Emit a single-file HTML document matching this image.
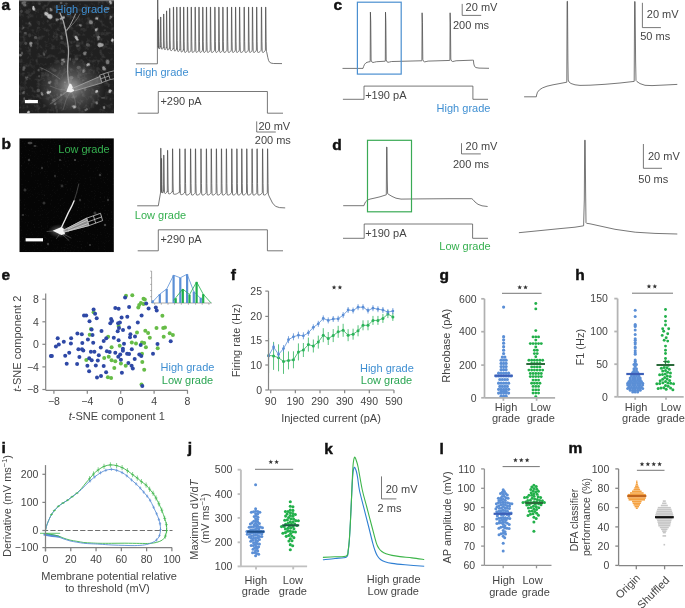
<!DOCTYPE html>
<html><head><meta charset="utf-8"><style>
html,body{margin:0;padding:0;background:#fff;width:685px;height:608px;overflow:hidden}
svg{display:block;font-family:"Liberation Sans", sans-serif;will-change:transform}
</style></head><body>
<svg width="685" height="608" viewBox="0 0 685 608">
<rect width="685" height="608" fill="#fff"/>
<text x="1.40" y="9.50" font-size="15.5" text-anchor="start" fill="#111" font-weight="bold" stroke="#111" stroke-width="0.45">a</text>
<text x="1.40" y="149.00" font-size="15.5" text-anchor="start" fill="#111" font-weight="bold" stroke="#111" stroke-width="0.45">b</text>
<text x="333.40" y="9.70" font-size="15.5" text-anchor="start" fill="#111" font-weight="bold" stroke="#111" stroke-width="0.45">c</text>
<text x="332.30" y="150.40" font-size="15.5" text-anchor="start" fill="#111" font-weight="bold" stroke="#111" stroke-width="0.45">d</text>
<text x="1.60" y="279.80" font-size="15.5" text-anchor="start" fill="#111" font-weight="bold" stroke="#111" stroke-width="0.45">e</text>
<text x="230.80" y="280.00" font-size="15.5" text-anchor="start" fill="#111" font-weight="bold" stroke="#111" stroke-width="0.45">f</text>
<text x="439.60" y="280.00" font-size="15.5" text-anchor="start" fill="#111" font-weight="bold" stroke="#111" stroke-width="0.45">g</text>
<text x="575.20" y="280.00" font-size="15.5" text-anchor="start" fill="#111" font-weight="bold" stroke="#111" stroke-width="0.45">h</text>
<text x="1.40" y="453.00" font-size="15.5" text-anchor="start" fill="#111" font-weight="bold" stroke="#111" stroke-width="0.45">i</text>
<text x="187.80" y="453.20" font-size="15.5" text-anchor="start" fill="#111" font-weight="bold" stroke="#111" stroke-width="0.45">j</text>
<text x="324.20" y="453.60" font-size="15.5" text-anchor="start" fill="#111" font-weight="bold" stroke="#111" stroke-width="0.45">k</text>
<text x="439.60" y="453.60" font-size="15.5" text-anchor="start" fill="#111" font-weight="bold" stroke="#111" stroke-width="0.45">l</text>
<text x="568.40" y="453.20" font-size="15.5" text-anchor="start" fill="#111" font-weight="bold" stroke="#111" stroke-width="0.45">m</text>
<defs>
<filter id="blur1" x="-50%" y="-50%" width="200%" height="200%"><feGaussianBlur stdDeviation="0.7"/></filter>
<filter id="blur2" x="-50%" y="-50%" width="200%" height="200%"><feGaussianBlur stdDeviation="1.6"/></filter>
<filter id="blur5" x="-100%" y="-100%" width="300%" height="300%"><feGaussianBlur stdDeviation="5"/></filter>
<filter id="noiseA" x="0" y="0" width="100%" height="100%">
 <feTurbulence type="fractalNoise" baseFrequency="0.22" numOctaves="3" seed="3" result="n"/>
 <feColorMatrix in="n" type="matrix" values="0 0 0 0 1  0 0 0 0 1  0 0 0 0 1  3.0 0 0 0 -1.45" result="m"/>
 <feGaussianBlur in="m" stdDeviation="0.45"/>
</filter>
<filter id="noiseB" x="0" y="0" width="100%" height="100%">
 <feTurbulence type="fractalNoise" baseFrequency="0.7" numOctaves="2" seed="9" result="n"/>
 <feColorMatrix in="n" type="matrix" values="0 0 0 0 1  0 0 0 0 1  0 0 0 0 1  1.6 0 0 0 -0.95" />
</filter>
<radialGradient id="glowA" cx="0.5" cy="0.5" r="0.5">
 <stop offset="0" stop-color="#fff" stop-opacity="0.55"/><stop offset="0.4" stop-color="#fff" stop-opacity="0.22"/><stop offset="1" stop-color="#fff" stop-opacity="0"/>
</radialGradient>
<radialGradient id="glowB" cx="0.5" cy="0.5" r="0.5">
 <stop offset="0" stop-color="#fff" stop-opacity="0.9"/><stop offset="0.3" stop-color="#fff" stop-opacity="0.25"/><stop offset="1" stop-color="#fff" stop-opacity="0"/>
</radialGradient>
<clipPath id="clipA"><rect x="19" y="0" width="95" height="113.6"/></clipPath>
<clipPath id="clipB"><rect x="19.3" y="138.2" width="94.6" height="114"/></clipPath>
</defs>
<g clip-path="url(#clipA)">
<rect x="19" y="0" width="95" height="113.6" fill="#202020"/>
<rect x="19" y="0" width="95" height="113.6" filter="url(#noiseA)" opacity="0.11"/>
<rect x="19" y="0" width="95" height="1.2" fill="#777"/>
<ellipse cx="62.17" cy="63.57" rx="1.43" ry="2.00" fill="rgb(79,79,79)" filter="url(#blur1)"/>
<ellipse cx="38.28" cy="90.43" rx="1.68" ry="1.91" fill="rgb(80,80,80)" filter="url(#blur1)"/>
<ellipse cx="29.57" cy="35.37" rx="1.55" ry="2.05" fill="rgb(55,55,55)" filter="url(#blur1)"/>
<ellipse cx="78.74" cy="67.50" rx="2.15" ry="1.72" fill="rgb(75,75,75)" filter="url(#blur1)"/>
<ellipse cx="77.02" cy="19.32" rx="1.96" ry="0.89" fill="rgb(50,50,50)" filter="url(#blur1)"/>
<ellipse cx="24.24" cy="98.75" rx="0.84" ry="1.45" fill="rgb(88,88,88)" filter="url(#blur1)"/>
<ellipse cx="61.09" cy="94.67" rx="1.13" ry="1.21" fill="rgb(83,83,83)" filter="url(#blur1)"/>
<ellipse cx="21.42" cy="11.35" rx="1.37" ry="1.57" fill="rgb(67,67,67)" filter="url(#blur1)"/>
<ellipse cx="105.78" cy="11.15" rx="1.24" ry="1.12" fill="rgb(66,66,66)" filter="url(#blur1)"/>
<ellipse cx="47.30" cy="9.72" rx="1.36" ry="1.99" fill="rgb(56,56,56)" filter="url(#blur1)"/>
<ellipse cx="56.17" cy="107.38" rx="1.10" ry="2.10" fill="rgb(50,50,50)" filter="url(#blur1)"/>
<ellipse cx="25.76" cy="43.30" rx="1.39" ry="1.59" fill="rgb(75,75,75)" filter="url(#blur1)"/>
<ellipse cx="39.06" cy="76.24" rx="0.92" ry="1.27" fill="rgb(71,71,71)" filter="url(#blur1)"/>
<ellipse cx="108.73" cy="85.38" rx="0.99" ry="1.79" fill="rgb(57,57,57)" filter="url(#blur1)"/>
<ellipse cx="22.00" cy="53.14" rx="1.05" ry="1.58" fill="rgb(81,81,81)" filter="url(#blur1)"/>
<ellipse cx="61.72" cy="22.98" rx="1.39" ry="1.34" fill="rgb(58,58,58)" filter="url(#blur1)"/>
<ellipse cx="56.93" cy="110.91" rx="1.18" ry="2.16" fill="rgb(50,50,50)" filter="url(#blur1)"/>
<ellipse cx="94.11" cy="35.46" rx="1.09" ry="1.35" fill="rgb(51,51,51)" filter="url(#blur1)"/>
<ellipse cx="98.75" cy="72.60" rx="0.86" ry="1.00" fill="rgb(56,56,56)" filter="url(#blur1)"/>
<ellipse cx="61.18" cy="3.05" rx="1.26" ry="1.21" fill="rgb(89,89,89)" filter="url(#blur1)"/>
<ellipse cx="27.68" cy="11.91" rx="1.69" ry="0.82" fill="rgb(87,87,87)" filter="url(#blur1)"/>
<ellipse cx="54.55" cy="70.44" rx="2.14" ry="1.48" fill="rgb(58,58,58)" filter="url(#blur1)"/>
<ellipse cx="73.29" cy="97.32" rx="1.68" ry="1.24" fill="rgb(61,61,61)" filter="url(#blur1)"/>
<ellipse cx="41.78" cy="69.15" rx="1.02" ry="1.68" fill="rgb(62,62,62)" filter="url(#blur1)"/>
<ellipse cx="71.41" cy="77.57" rx="2.04" ry="1.64" fill="rgb(74,74,74)" filter="url(#blur1)"/>
<ellipse cx="59.35" cy="13.42" rx="1.52" ry="1.16" fill="rgb(52,52,52)" filter="url(#blur1)"/>
<ellipse cx="88.32" cy="45.08" rx="1.95" ry="1.64" fill="rgb(76,76,76)" filter="url(#blur1)"/>
<ellipse cx="47.70" cy="21.30" rx="0.98" ry="1.47" fill="rgb(54,54,54)" filter="url(#blur1)"/>
<ellipse cx="80.47" cy="69.75" rx="1.19" ry="2.08" fill="rgb(54,54,54)" filter="url(#blur1)"/>
<ellipse cx="39.56" cy="3.82" rx="1.38" ry="1.15" fill="rgb(67,67,67)" filter="url(#blur1)"/>
<ellipse cx="25.24" cy="33.02" rx="1.60" ry="0.98" fill="rgb(83,83,83)" filter="url(#blur1)"/>
<ellipse cx="53.96" cy="100.00" rx="1.72" ry="1.77" fill="rgb(71,71,71)" filter="url(#blur1)"/>
<ellipse cx="74.18" cy="17.44" rx="2.09" ry="1.46" fill="rgb(52,52,52)" filter="url(#blur1)"/>
<ellipse cx="53.53" cy="36.30" rx="0.83" ry="1.69" fill="rgb(52,52,52)" filter="url(#blur1)"/>
<ellipse cx="64.88" cy="82.35" rx="0.99" ry="0.90" fill="rgb(70,70,70)" filter="url(#blur1)"/>
<ellipse cx="62.23" cy="42.46" rx="2.06" ry="1.83" fill="rgb(52,52,52)" filter="url(#blur1)"/>
<ellipse cx="85.04" cy="89.26" rx="1.29" ry="1.76" fill="rgb(71,71,71)" filter="url(#blur1)"/>
<ellipse cx="102.98" cy="97.82" rx="2.12" ry="0.84" fill="rgb(76,76,76)" filter="url(#blur1)"/>
<ellipse cx="66.49" cy="3.60" rx="1.33" ry="0.82" fill="rgb(74,74,74)" filter="url(#blur1)"/>
<ellipse cx="27.57" cy="11.97" rx="2.19" ry="2.03" fill="rgb(57,57,57)" filter="url(#blur1)"/>
<ellipse cx="87.27" cy="44.73" rx="1.44" ry="1.45" fill="rgb(87,87,87)" filter="url(#blur1)"/>
<ellipse cx="70.25" cy="59.06" rx="0.84" ry="1.64" fill="rgb(82,82,82)" filter="url(#blur1)"/>
<ellipse cx="64.77" cy="27.32" rx="1.50" ry="1.66" fill="rgb(57,57,57)" filter="url(#blur1)"/>
<ellipse cx="104.76" cy="30.14" rx="1.32" ry="1.00" fill="rgb(50,50,50)" filter="url(#blur1)"/>
<ellipse cx="76.67" cy="59.02" rx="1.72" ry="1.42" fill="rgb(71,71,71)" filter="url(#blur1)"/>
<ellipse cx="71" cy="87" rx="34" ry="30" fill="url(#glowA)"/>
<ellipse cx="33.41" cy="8.27" rx="1.05" ry="2.45" fill="rgb(207,207,207)" transform="rotate(-4 33.50 8.00)" filter="url(#blur1)"/>
<ellipse cx="33.52" cy="8.39" rx="0.74" ry="1.72" fill="rgb(195,195,195)" transform="rotate(1 33.50 8.00)" filter="url(#blur1)"/>
<ellipse cx="33.75" cy="9.31" rx="0.70" ry="1.63" fill="rgb(195,195,195)" transform="rotate(-24 33.50 8.00)" filter="url(#blur1)"/>
<ellipse cx="47.30" cy="15.49" rx="2.06" ry="2.38" fill="rgb(202,202,202)" transform="rotate(-55 49.00 14.00)" filter="url(#blur1)"/>
<ellipse cx="51.01" cy="16.23" rx="2.03" ry="2.34" fill="rgb(191,191,191)" transform="rotate(14 49.00 14.00)" filter="url(#blur1)"/>
<ellipse cx="47.58" cy="11.67" rx="1.91" ry="2.20" fill="rgb(191,191,191)" transform="rotate(-53 49.00 14.00)" filter="url(#blur1)"/>
<ellipse cx="50.51" cy="8.74" rx="0.90" ry="0.90" fill="rgb(135,135,135)" transform="rotate(-4 51.30 9.40)" filter="url(#blur1)"/>
<ellipse cx="51.15" cy="10.28" rx="1.17" ry="1.17" fill="rgb(127,127,127)" transform="rotate(17 51.30 9.40)" filter="url(#blur1)"/>
<ellipse cx="51.30" cy="9.82" rx="1.14" ry="1.14" fill="rgb(127,127,127)" transform="rotate(-27 51.30 9.40)" filter="url(#blur1)"/>
<ellipse cx="25.45" cy="4.23" rx="1.86" ry="1.52" fill="rgb(108,108,108)" transform="rotate(25 23.70 2.80)" filter="url(#blur1)"/>
<ellipse cx="23.05" cy="2.02" rx="1.43" ry="1.17" fill="rgb(102,102,102)" transform="rotate(-52 23.70 2.80)" filter="url(#blur1)"/>
<ellipse cx="24.64" cy="2.51" rx="1.86" ry="1.52" fill="rgb(102,102,102)" transform="rotate(-14 23.70 2.80)" filter="url(#blur1)"/>
<ellipse cx="63.42" cy="18.58" rx="0.99" ry="0.77" fill="rgb(189,189,189)" transform="rotate(-35 62.10 17.80)" filter="url(#blur1)"/>
<ellipse cx="63.28" cy="17.73" rx="1.61" ry="1.25" fill="rgb(178,178,178)" transform="rotate(-12 62.10 17.80)" filter="url(#blur1)"/>
<ellipse cx="60.87" cy="18.09" rx="1.48" ry="1.15" fill="rgb(178,178,178)" transform="rotate(-28 62.10 17.80)" filter="url(#blur1)"/>
<ellipse cx="56.54" cy="19.88" rx="1.15" ry="1.06" fill="rgb(144,144,144)" transform="rotate(31 57.40 20.20)" filter="url(#blur1)"/>
<ellipse cx="56.61" cy="19.71" rx="0.76" ry="0.70" fill="rgb(136,136,136)" transform="rotate(-53 57.40 20.20)" filter="url(#blur1)"/>
<ellipse cx="58.02" cy="19.58" rx="0.97" ry="0.89" fill="rgb(136,136,136)" transform="rotate(-6 57.40 20.20)" filter="url(#blur1)"/>
<ellipse cx="29.61" cy="23.45" rx="0.72" ry="0.72" fill="rgb(99,99,99)" transform="rotate(17 30.20 23.00)" filter="url(#blur1)"/>
<ellipse cx="29.46" cy="22.85" rx="0.75" ry="0.75" fill="rgb(93,93,93)" transform="rotate(-28 30.20 23.00)" filter="url(#blur1)"/>
<ellipse cx="31.10" cy="23.58" rx="0.79" ry="0.79" fill="rgb(93,93,93)" transform="rotate(46 30.20 23.00)" filter="url(#blur1)"/>
<ellipse cx="30.46" cy="43.70" rx="1.36" ry="1.53" fill="rgb(153,153,153)" transform="rotate(17 31.20 44.00)" filter="url(#blur1)"/>
<ellipse cx="30.18" cy="45.41" rx="1.00" ry="1.12" fill="rgb(144,144,144)" transform="rotate(-29 31.20 44.00)" filter="url(#blur1)"/>
<ellipse cx="31.90" cy="43.51" rx="1.05" ry="1.18" fill="rgb(144,144,144)" transform="rotate(-51 31.20 44.00)" filter="url(#blur1)"/>
<ellipse cx="34.92" cy="37.70" rx="0.95" ry="0.95" fill="rgb(90,90,90)" transform="rotate(12 35.90 37.50)" filter="url(#blur1)"/>
<ellipse cx="35.59" cy="37.39" rx="1.33" ry="1.33" fill="rgb(85,85,85)" transform="rotate(-2 35.90 37.50)" filter="url(#blur1)"/>
<ellipse cx="36.08" cy="38.38" rx="0.92" ry="0.92" fill="rgb(85,85,85)" transform="rotate(-42 35.90 37.50)" filter="url(#blur1)"/>
<ellipse cx="23.48" cy="28.61" rx="0.76" ry="0.76" fill="rgb(99,99,99)" transform="rotate(-37 22.70 28.00)" filter="url(#blur1)"/>
<ellipse cx="23.16" cy="28.85" rx="0.74" ry="0.74" fill="rgb(93,93,93)" transform="rotate(54 22.70 28.00)" filter="url(#blur1)"/>
<ellipse cx="23.43" cy="28.20" rx="0.84" ry="0.84" fill="rgb(93,93,93)" transform="rotate(-48 22.70 28.00)" filter="url(#blur1)"/>
<ellipse cx="19.94" cy="55.51" rx="0.82" ry="0.95" fill="rgb(135,135,135)" transform="rotate(25 20.90 54.40)" filter="url(#blur1)"/>
<ellipse cx="20.39" cy="55.18" rx="0.99" ry="1.14" fill="rgb(127,127,127)" transform="rotate(-25 20.90 54.40)" filter="url(#blur1)"/>
<ellipse cx="20.22" cy="54.93" rx="0.75" ry="0.86" fill="rgb(127,127,127)" transform="rotate(-33 20.90 54.40)" filter="url(#blur1)"/>
<ellipse cx="61.33" cy="38.40" rx="1.07" ry="1.22" fill="rgb(99,99,99)" transform="rotate(-26 61.20 37.50)" filter="url(#blur1)"/>
<ellipse cx="62.13" cy="36.74" rx="0.78" ry="0.89" fill="rgb(93,93,93)" transform="rotate(-28 61.20 37.50)" filter="url(#blur1)"/>
<ellipse cx="61.08" cy="36.37" rx="0.86" ry="0.98" fill="rgb(93,93,93)" transform="rotate(-16 61.20 37.50)" filter="url(#blur1)"/>
<ellipse cx="43.54" cy="53.69" rx="0.81" ry="0.81" fill="rgb(99,99,99)" transform="rotate(47 43.40 54.40)" filter="url(#blur1)"/>
<ellipse cx="44.32" cy="54.70" rx="0.95" ry="0.95" fill="rgb(93,93,93)" transform="rotate(10 43.40 54.40)" filter="url(#blur1)"/>
<ellipse cx="42.71" cy="53.51" rx="0.67" ry="0.67" fill="rgb(93,93,93)" transform="rotate(49 43.40 54.40)" filter="url(#blur1)"/>
<ellipse cx="77.91" cy="39.58" rx="1.23" ry="0.89" fill="rgb(198,198,198)" transform="rotate(16 77.20 38.40)" filter="url(#blur1)"/>
<ellipse cx="77.14" cy="38.99" rx="1.46" ry="1.06" fill="rgb(187,187,187)" transform="rotate(60 77.20 38.40)" filter="url(#blur1)"/>
<ellipse cx="75.70" cy="38.52" rx="1.78" ry="1.29" fill="rgb(187,187,187)" transform="rotate(48 77.20 38.40)" filter="url(#blur1)"/>
<ellipse cx="91.98" cy="22.25" rx="1.49" ry="1.66" fill="rgb(135,135,135)" transform="rotate(50 91.30 21.60)" filter="url(#blur1)"/>
<ellipse cx="90.87" cy="22.19" rx="1.56" ry="1.73" fill="rgb(127,127,127)" transform="rotate(45 91.30 21.60)" filter="url(#blur1)"/>
<ellipse cx="91.06" cy="22.53" rx="1.53" ry="1.70" fill="rgb(127,127,127)" transform="rotate(9 91.30 21.60)" filter="url(#blur1)"/>
<ellipse cx="97.10" cy="18.46" rx="0.75" ry="0.98" fill="rgb(180,180,180)" transform="rotate(13 96.90 18.70)" filter="url(#blur1)"/>
<ellipse cx="96.23" cy="18.99" rx="0.90" ry="1.17" fill="rgb(170,170,170)" transform="rotate(46 96.90 18.70)" filter="url(#blur1)"/>
<ellipse cx="97.27" cy="18.47" rx="0.81" ry="1.05" fill="rgb(170,170,170)" transform="rotate(10 96.90 18.70)" filter="url(#blur1)"/>
<ellipse cx="96.40" cy="30.30" rx="0.58" ry="1.39" fill="rgb(180,180,180)" transform="rotate(30 96.50 29.00)" filter="url(#blur1)"/>
<ellipse cx="95.75" cy="29.39" rx="0.72" ry="1.72" fill="rgb(170,170,170)" transform="rotate(-32 96.50 29.00)" filter="url(#blur1)"/>
<ellipse cx="96.82" cy="28.99" rx="0.77" ry="1.84" fill="rgb(170,170,170)" transform="rotate(50 96.50 29.00)" filter="url(#blur1)"/>
<ellipse cx="98.17" cy="37.15" rx="1.05" ry="1.05" fill="rgb(135,135,135)" transform="rotate(21 98.80 38.40)" filter="url(#blur1)"/>
<ellipse cx="98.04" cy="37.55" rx="1.39" ry="1.39" fill="rgb(127,127,127)" transform="rotate(19 98.80 38.40)" filter="url(#blur1)"/>
<ellipse cx="98.65" cy="39.40" rx="1.06" ry="1.06" fill="rgb(127,127,127)" transform="rotate(20 98.80 38.40)" filter="url(#blur1)"/>
<ellipse cx="99.54" cy="45.63" rx="2.00" ry="2.00" fill="rgb(171,171,171)" transform="rotate(50 100.70 45.90)" filter="url(#blur1)"/>
<ellipse cx="102.16" cy="45.46" rx="1.81" ry="1.81" fill="rgb(161,161,161)" transform="rotate(-22 100.70 45.90)" filter="url(#blur1)"/>
<ellipse cx="99.30" cy="45.89" rx="2.02" ry="2.02" fill="rgb(161,161,161)" transform="rotate(42 100.70 45.90)" filter="url(#blur1)"/>
<ellipse cx="80.61" cy="26.02" rx="1.16" ry="0.65" fill="rgb(144,144,144)" transform="rotate(-40 80.00 25.30)" filter="url(#blur1)"/>
<ellipse cx="79.86" cy="24.94" rx="1.12" ry="0.62" fill="rgb(136,136,136)" transform="rotate(-10 80.00 25.30)" filter="url(#blur1)"/>
<ellipse cx="80.36" cy="25.29" rx="1.19" ry="0.66" fill="rgb(136,136,136)" transform="rotate(41 80.00 25.30)" filter="url(#blur1)"/>
<ellipse cx="111.23" cy="17.69" rx="0.92" ry="0.81" fill="rgb(135,135,135)" transform="rotate(-56 110.00 17.80)" filter="url(#blur1)"/>
<ellipse cx="110.95" cy="16.77" rx="1.28" ry="1.12" fill="rgb(127,127,127)" transform="rotate(8 110.00 17.80)" filter="url(#blur1)"/>
<ellipse cx="109.51" cy="18.45" rx="0.89" ry="0.78" fill="rgb(127,127,127)" transform="rotate(-44 110.00 17.80)" filter="url(#blur1)"/>
<ellipse cx="110.91" cy="1.58" rx="1.01" ry="1.34" fill="rgb(180,180,180)" transform="rotate(-32 111.00 2.80)" filter="url(#blur1)"/>
<ellipse cx="110.31" cy="1.64" rx="0.92" ry="1.23" fill="rgb(170,170,170)" transform="rotate(-6 111.00 2.80)" filter="url(#blur1)"/>
<ellipse cx="111.25" cy="3.20" rx="1.00" ry="1.33" fill="rgb(170,170,170)" transform="rotate(55 111.00 2.80)" filter="url(#blur1)"/>
<ellipse cx="113.25" cy="39.53" rx="0.86" ry="1.15" fill="rgb(207,207,207)" transform="rotate(-39 112.90 40.30)" filter="url(#blur1)"/>
<ellipse cx="111.96" cy="40.23" rx="0.96" ry="1.28" fill="rgb(195,195,195)" transform="rotate(-39 112.90 40.30)" filter="url(#blur1)"/>
<ellipse cx="112.46" cy="39.91" rx="0.95" ry="1.27" fill="rgb(195,195,195)" transform="rotate(2 112.90 40.30)" filter="url(#blur1)"/>
<ellipse cx="77.42" cy="46.49" rx="0.83" ry="0.83" fill="rgb(99,99,99)" transform="rotate(35 77.20 46.00)" filter="url(#blur1)"/>
<ellipse cx="77.98" cy="45.21" rx="1.05" ry="1.05" fill="rgb(93,93,93)" transform="rotate(27 77.20 46.00)" filter="url(#blur1)"/>
<ellipse cx="76.49" cy="45.91" rx="0.92" ry="0.92" fill="rgb(93,93,93)" transform="rotate(49 77.20 46.00)" filter="url(#blur1)"/>
<ellipse cx="84.38" cy="53.55" rx="1.37" ry="1.20" fill="rgb(135,135,135)" transform="rotate(36 84.70 53.40)" filter="url(#blur1)"/>
<ellipse cx="85.84" cy="53.32" rx="1.24" ry="1.09" fill="rgb(127,127,127)" transform="rotate(-35 84.70 53.40)" filter="url(#blur1)"/>
<ellipse cx="85.27" cy="54.11" rx="1.24" ry="1.08" fill="rgb(127,127,127)" transform="rotate(26 84.70 53.40)" filter="url(#blur1)"/>
<ellipse cx="48.81" cy="93.58" rx="1.34" ry="1.79" fill="rgb(207,207,207)" transform="rotate(57 49.50 92.30)" filter="url(#blur1)"/>
<ellipse cx="49.59" cy="93.23" rx="0.99" ry="1.32" fill="rgb(195,195,195)" transform="rotate(49 49.50 92.30)" filter="url(#blur1)"/>
<ellipse cx="50.35" cy="91.82" rx="0.87" ry="1.16" fill="rgb(195,195,195)" transform="rotate(-7 49.50 92.30)" filter="url(#blur1)"/>
<ellipse cx="42.00" cy="94.72" rx="0.86" ry="0.86" fill="rgb(162,162,162)" transform="rotate(-57 41.90 94.20)" filter="url(#blur1)"/>
<ellipse cx="42.49" cy="93.36" rx="1.00" ry="1.00" fill="rgb(153,153,153)" transform="rotate(-39 41.90 94.20)" filter="url(#blur1)"/>
<ellipse cx="41.58" cy="94.75" rx="0.72" ry="0.72" fill="rgb(153,153,153)" transform="rotate(-42 41.90 94.20)" filter="url(#blur1)"/>
<ellipse cx="49.54" cy="83.09" rx="1.18" ry="0.93" fill="rgb(153,153,153)" transform="rotate(23 49.50 82.70)" filter="url(#blur1)"/>
<ellipse cx="50.50" cy="82.69" rx="1.24" ry="0.97" fill="rgb(144,144,144)" transform="rotate(-50 49.50 82.70)" filter="url(#blur1)"/>
<ellipse cx="48.88" cy="82.75" rx="0.91" ry="0.72" fill="rgb(144,144,144)" transform="rotate(27 49.50 82.70)" filter="url(#blur1)"/>
<ellipse cx="28.72" cy="112.35" rx="0.85" ry="1.18" fill="rgb(198,198,198)" transform="rotate(7 28.50 112.30)" filter="url(#blur1)"/>
<ellipse cx="28.20" cy="112.03" rx="0.85" ry="1.18" fill="rgb(187,187,187)" transform="rotate(48 28.50 112.30)" filter="url(#blur1)"/>
<ellipse cx="28.03" cy="113.09" rx="0.89" ry="1.24" fill="rgb(187,187,187)" transform="rotate(3 28.50 112.30)" filter="url(#blur1)"/>
<ellipse cx="23.99" cy="68.13" rx="1.18" ry="1.18" fill="rgb(99,99,99)" transform="rotate(0 23.80 68.90)" filter="url(#blur1)"/>
<ellipse cx="24.07" cy="67.69" rx="1.42" ry="1.42" fill="rgb(93,93,93)" transform="rotate(2 23.80 68.90)" filter="url(#blur1)"/>
<ellipse cx="23.55" cy="69.67" rx="1.20" ry="1.20" fill="rgb(93,93,93)" transform="rotate(-1 23.80 68.90)" filter="url(#blur1)"/>
<ellipse cx="63.39" cy="59.83" rx="1.18" ry="1.03" fill="rgb(144,144,144)" transform="rotate(-10 62.90 60.80)" filter="url(#blur1)"/>
<ellipse cx="64.07" cy="61.75" rx="1.03" ry="0.90" fill="rgb(136,136,136)" transform="rotate(-3 62.90 60.80)" filter="url(#blur1)"/>
<ellipse cx="61.95" cy="60.65" rx="1.34" ry="1.17" fill="rgb(136,136,136)" transform="rotate(48 62.90 60.80)" filter="url(#blur1)"/>
<ellipse cx="23.74" cy="92.91" rx="0.99" ry="0.62" fill="rgb(108,108,108)" transform="rotate(14 23.80 93.20)" filter="url(#blur1)"/>
<ellipse cx="24.89" cy="92.61" rx="1.32" ry="0.82" fill="rgb(102,102,102)" transform="rotate(-57 23.80 93.20)" filter="url(#blur1)"/>
<ellipse cx="23.02" cy="92.76" rx="1.26" ry="0.79" fill="rgb(102,102,102)" transform="rotate(-21 23.80 93.20)" filter="url(#blur1)"/>
<ellipse cx="96.65" cy="91.64" rx="0.88" ry="1.06" fill="rgb(207,207,207)" transform="rotate(28 97.00 91.30)" filter="url(#blur1)"/>
<ellipse cx="96.09" cy="91.33" rx="0.96" ry="1.15" fill="rgb(195,195,195)" transform="rotate(-36 97.00 91.30)" filter="url(#blur1)"/>
<ellipse cx="97.07" cy="91.12" rx="1.02" ry="1.23" fill="rgb(195,195,195)" transform="rotate(-10 97.00 91.30)" filter="url(#blur1)"/>
<ellipse cx="109.46" cy="90.32" rx="0.81" ry="1.12" fill="rgb(189,189,189)" transform="rotate(16 109.40 91.30)" filter="url(#blur1)"/>
<ellipse cx="109.69" cy="91.39" rx="1.10" ry="1.53" fill="rgb(178,178,178)" transform="rotate(13 109.40 91.30)" filter="url(#blur1)"/>
<ellipse cx="110.14" cy="90.53" rx="1.05" ry="1.46" fill="rgb(178,178,178)" transform="rotate(37 109.40 91.30)" filter="url(#blur1)"/>
<ellipse cx="89.19" cy="63.25" rx="1.32" ry="0.79" fill="rgb(198,198,198)" transform="rotate(51 87.90 63.60)" filter="url(#blur1)"/>
<ellipse cx="87.00" cy="64.56" rx="1.72" ry="1.03" fill="rgb(187,187,187)" transform="rotate(-44 87.90 63.60)" filter="url(#blur1)"/>
<ellipse cx="87.07" cy="64.04" rx="1.28" ry="0.77" fill="rgb(187,187,187)" transform="rotate(-48 87.90 63.60)" filter="url(#blur1)"/>
<ellipse cx="104.05" cy="68.15" rx="1.32" ry="1.65" fill="rgb(153,153,153)" transform="rotate(-45 103.20 68.40)" filter="url(#blur1)"/>
<ellipse cx="102.95" cy="68.99" rx="0.89" ry="1.11" fill="rgb(144,144,144)" transform="rotate(-36 103.20 68.40)" filter="url(#blur1)"/>
<ellipse cx="103.67" cy="69.72" rx="1.42" ry="1.78" fill="rgb(144,144,144)" transform="rotate(-46 103.20 68.40)" filter="url(#blur1)"/>
<ellipse cx="74.61" cy="107.34" rx="1.02" ry="1.31" fill="rgb(189,189,189)" transform="rotate(22 74.60 106.60)" filter="url(#blur1)"/>
<ellipse cx="73.90" cy="105.36" rx="0.82" ry="1.06" fill="rgb(178,178,178)" transform="rotate(-56 74.60 106.60)" filter="url(#blur1)"/>
<ellipse cx="74.72" cy="106.64" rx="1.05" ry="1.35" fill="rgb(178,178,178)" transform="rotate(-42 74.60 106.60)" filter="url(#blur1)"/>
<ellipse cx="82.59" cy="70.59" rx="1.01" ry="1.27" fill="rgb(144,144,144)" transform="rotate(59 83.20 71.30)" filter="url(#blur1)"/>
<ellipse cx="84.02" cy="70.33" rx="0.69" ry="0.86" fill="rgb(136,136,136)" transform="rotate(54 83.20 71.30)" filter="url(#blur1)"/>
<ellipse cx="83.13" cy="71.94" rx="0.80" ry="1.00" fill="rgb(136,136,136)" transform="rotate(-4 83.20 71.30)" filter="url(#blur1)"/>
<ellipse cx="96.53" cy="102.64" rx="1.06" ry="1.06" fill="rgb(135,135,135)" transform="rotate(-58 96.50 102.80)" filter="url(#blur1)"/>
<ellipse cx="96.95" cy="103.57" rx="0.86" ry="0.86" fill="rgb(127,127,127)" transform="rotate(-6 96.50 102.80)" filter="url(#blur1)"/>
<ellipse cx="97.04" cy="102.59" rx="0.87" ry="0.87" fill="rgb(127,127,127)" transform="rotate(-40 96.50 102.80)" filter="url(#blur1)"/>
<ellipse cx="107.04" cy="60.76" rx="1.73" ry="1.38" fill="rgb(126,126,126)" transform="rotate(36 107.00 62.00)" filter="url(#blur1)"/>
<ellipse cx="107.65" cy="62.92" rx="1.54" ry="1.23" fill="rgb(119,119,119)" transform="rotate(-11 107.00 62.00)" filter="url(#blur1)"/>
<ellipse cx="107.32" cy="62.01" rx="1.79" ry="1.43" fill="rgb(119,119,119)" transform="rotate(37 107.00 62.00)" filter="url(#blur1)"/>
<ellipse cx="107.54" cy="8.79" rx="0.97" ry="0.97" fill="rgb(126,126,126)" transform="rotate(33 108.00 8.00)" filter="url(#blur1)"/>
<ellipse cx="108.60" cy="7.82" rx="1.04" ry="1.04" fill="rgb(119,119,119)" transform="rotate(46 108.00 8.00)" filter="url(#blur1)"/>
<ellipse cx="108.37" cy="8.51" rx="0.98" ry="0.98" fill="rgb(119,119,119)" transform="rotate(-11 108.00 8.00)" filter="url(#blur1)"/>
<ellipse cx="27.50" cy="77.18" rx="0.94" ry="0.80" fill="rgb(99,99,99)" transform="rotate(-4 27.00 78.00)" filter="url(#blur1)"/>
<ellipse cx="25.90" cy="77.72" rx="1.08" ry="0.93" fill="rgb(93,93,93)" transform="rotate(15 27.00 78.00)" filter="url(#blur1)"/>
<ellipse cx="26.40" cy="78.85" rx="1.10" ry="0.94" fill="rgb(93,93,93)" transform="rotate(-19 27.00 78.00)" filter="url(#blur1)"/>
<ellipse cx="38.26" cy="70.11" rx="0.74" ry="0.74" fill="rgb(99,99,99)" transform="rotate(-13 38.00 70.00)" filter="url(#blur1)"/>
<ellipse cx="38.80" cy="70.23" rx="0.80" ry="0.80" fill="rgb(93,93,93)" transform="rotate(31 38.00 70.00)" filter="url(#blur1)"/>
<ellipse cx="38.77" cy="69.24" rx="0.77" ry="0.77" fill="rgb(93,93,93)" transform="rotate(29 38.00 70.00)" filter="url(#blur1)"/>
<ellipse cx="54.53" cy="103.81" rx="0.68" ry="0.68" fill="rgb(117,117,117)" transform="rotate(-37 55.00 104.00)" filter="url(#blur1)"/>
<ellipse cx="54.76" cy="103.23" rx="0.77" ry="0.77" fill="rgb(110,110,110)" transform="rotate(49 55.00 104.00)" filter="url(#blur1)"/>
<ellipse cx="55.10" cy="104.02" rx="1.07" ry="1.07" fill="rgb(110,110,110)" transform="rotate(8 55.00 104.00)" filter="url(#blur1)"/>
<ellipse cx="87.11" cy="110.26" rx="1.17" ry="1.00" fill="rgb(126,126,126)" transform="rotate(-51 86.00 110.00)" filter="url(#blur1)"/>
<ellipse cx="86.22" cy="110.50" rx="0.79" ry="0.68" fill="rgb(119,119,119)" transform="rotate(52 86.00 110.00)" filter="url(#blur1)"/>
<ellipse cx="85.24" cy="109.95" rx="0.85" ry="0.73" fill="rgb(119,119,119)" transform="rotate(-1 86.00 110.00)" filter="url(#blur1)"/>
<ellipse cx="104.21" cy="107.15" rx="1.06" ry="1.06" fill="rgb(135,135,135)" transform="rotate(-10 104.00 108.00)" filter="url(#blur1)"/>
<ellipse cx="104.05" cy="108.19" rx="0.81" ry="0.81" fill="rgb(127,127,127)" transform="rotate(-26 104.00 108.00)" filter="url(#blur1)"/>
<ellipse cx="104.30" cy="108.12" rx="0.78" ry="0.78" fill="rgb(127,127,127)" transform="rotate(26 104.00 108.00)" filter="url(#blur1)"/>
<ellipse cx="29.61" cy="99.22" rx="0.76" ry="0.64" fill="rgb(108,108,108)" transform="rotate(-55 30.00 100.00)" filter="url(#blur1)"/>
<ellipse cx="29.34" cy="100.41" rx="0.82" ry="0.69" fill="rgb(102,102,102)" transform="rotate(48 30.00 100.00)" filter="url(#blur1)"/>
<ellipse cx="30.48" cy="99.28" rx="1.08" ry="0.90" fill="rgb(102,102,102)" transform="rotate(53 30.00 100.00)" filter="url(#blur1)"/>
<g fill="none" stroke="#a8a8a8" stroke-linecap="round" filter="url(#blur1)">
<path d="M70,89 C68.5,82 67.5,75 67.6,68 C67.8,60 68.8,56 68.5,50 C68,42 66.5,36 65.5,30 C64.5,24 62.5,18 60,13" stroke-width="1.3"/>
<path d="M66.5,31 C70,26 73,20 75.5,14" stroke-width="0.9"/>
<path d="M66,30 C72,26 77,20 80,14" stroke-width="0.7" opacity="0.7"/>
<path d="M40,67.5 C47,70 53,74 60,79" stroke-width="0.6" opacity="0.6"/>
<path d="M70,89 C62,96 56,100 50,104" stroke-width="0.6" opacity="0.5"/>
</g>
<path d="M69.6,83.5 L71.2,84 L74.5,90.8 L71,92.4 L66.2,91.8 Z" fill="#f0f0f0" filter="url(#blur1)"/>
<g stroke="#9a9a9a" stroke-width="0.5" fill="none" opacity="0.7"><path d="M67,91.5 L60,96 L52,101 M66.5,90.5 L58,89 L50,86 M72,92 L75,100 L76,108 M70,92 L66,100 L63,110"/></g>
<path d="M72,88.5 L100.5,76.2 L102.3,82.8 L74.8,90.8 Z" fill="#8a8a8a" opacity="0.5"/>
<g fill="none" stroke="#a8a8a8" stroke-width="0.8">
<path d="M72,88.5 L100.5,76.2 M74.8,90.8 L102.3,82.8 M99.5,75.2 L107.8,72.4 L110.2,79.6 L101.8,82.6 Z M103.6,73.8 L106,81.1 M100.6,78.9 L109,76 M107.8,72.4 L114,70.8 M110.2,79.6 L114,78.8"/>
</g>
<rect x="24.9" y="100" width="13" height="3.2" fill="#fff"/>
</g>
<text x="55.50" y="12.90" font-size="11" text-anchor="start" fill="#3f8fd2" font-weight="normal" >High grade</text>
<g clip-path="url(#clipB)">
<rect x="19.3" y="138.2" width="94.6" height="114" fill="#050505"/>
<rect x="19.3" y="138.2" width="94.6" height="114" filter="url(#noiseB)" opacity="0.15"/>
<ellipse cx="30" cy="143" rx="2.5" ry="1.2" fill="rgb(70,70,70)" filter="url(#blur1)"/>
<ellipse cx="35" cy="146" rx="1.5" ry="1" fill="rgb(60,60,60)" filter="url(#blur1)"/>
<ellipse cx="25" cy="190" rx="1.5" ry="1.5" fill="rgb(50,50,50)" filter="url(#blur1)"/>
<ellipse cx="44" cy="203" rx="1.5" ry="1.5" fill="rgb(50,50,50)" filter="url(#blur1)"/>
<ellipse cx="62" cy="186" rx="1.4" ry="1.4" fill="rgb(50,50,50)" filter="url(#blur1)"/>
<ellipse cx="55" cy="176" rx="1.2" ry="1.2" fill="rgb(45,45,45)" filter="url(#blur1)"/>
<ellipse cx="80" cy="200" rx="1.2" ry="1.2" fill="rgb(50,50,50)" filter="url(#blur1)"/>
<ellipse cx="95" cy="213" rx="1.6" ry="1.6" fill="rgb(55,55,55)" filter="url(#blur1)"/>
<ellipse cx="75" cy="160" rx="1" ry="1" fill="rgb(80,80,80)" filter="url(#blur1)"/>
<ellipse cx="100" cy="175" rx="1.2" ry="1.2" fill="rgb(60,60,60)" filter="url(#blur1)"/>
<ellipse cx="105" cy="225" rx="1.2" ry="1.2" fill="rgb(70,70,70)" filter="url(#blur1)"/>
<ellipse cx="90" cy="245" rx="1" ry="1" fill="rgb(60,60,60)" filter="url(#blur1)"/>
<ellipse cx="29" cy="160" rx="1.2" ry="1.2" fill="rgb(60,60,60)" filter="url(#blur1)"/>
<ellipse cx="48" cy="244" rx="1.2" ry="1.2" fill="rgb(60,60,60)" filter="url(#blur1)"/>
<ellipse cx="23" cy="215" rx="1" ry="1" fill="rgb(60,60,60)" filter="url(#blur1)"/>
<ellipse cx="88" cy="150" rx="1" ry="1" fill="rgb(70,70,70)" filter="url(#blur1)"/>
<ellipse cx="60" cy="160" rx="1" ry="1" fill="rgb(60,60,60)" filter="url(#blur1)"/>
<ellipse cx="42" cy="168" rx="1.2" ry="1.2" fill="rgb(50,50,50)" filter="url(#blur1)"/>
<ellipse cx="108" cy="200" rx="1.2" ry="1.2" fill="rgb(50,50,50)" filter="url(#blur1)"/>
<ellipse cx="59" cy="231" rx="11" ry="7" fill="url(#glowB)"/>
<g fill="none" stroke="#e8e8e8" stroke-linecap="round">
<path d="M61.4,227.8 C63,224 64.2,221.5 65.2,219.5 C66.5,216.5 68.5,212 71,207.6 C72,205.8 73,203.5 74,201" stroke-width="1.4"/>
<path d="M74,201 C76,195 77.5,190 78.8,184" stroke-width="0.6" opacity="0.45"/>
<path d="M60,233.5 L56.5,238.5 M62,234 L69,240.5 M62.5,233.5 L71,238 M54,231 L47,231.5" stroke-width="0.5" opacity="0.5"/>
</g>
<path d="M52.6,230.8 L61.4,227.0 L64.5,229.2 L64.9,234.0 L61.4,235.0 Z" fill="#f4f4f4" filter="url(#blur1)"/>
<path d="M63.1,230.0 L86.8,217.6 L89.2,226.0 L64,232.5 Z" fill="#a5a5a5" opacity="0.85"/>
<g fill="none" stroke="#cfcfcf" stroke-width="0.8">
<path d="M63.1,230.4 L86.8,218.1 M64,232.1 L89,225.6 M86.8,218.1 L100.5,213.3 L102.6,220.6 L89,225.6 Z M93.4,215.8 L95.7,223.2 M87.9,221.9 L101.6,217.0 M68,229 L87,220.5 M68,231 L88,223.5"/>
</g>
<rect x="25.6" y="238.2" width="17.4" height="3.2" fill="#fff"/>
</g>
<text x="58.30" y="152.80" font-size="11" text-anchor="start" fill="#35b04f" font-weight="normal" >Low grade</text>
<path d="M136.00,63.80 L157.40,63.80 L157.40,46.10 L157.60,-3.00 L157.80,-3.00 L158.15,35.62 L158.40,47.30 L158.70,48.20 L158.62,48.37 L158.53,48.29 L158.45,47.98 L158.37,47.52 L158.28,46.89 L158.20,46.10 L158.20,46.55 L158.40,19.60 L158.60,19.60 L158.95,41.61 L159.20,47.75 L159.50,48.65 L159.65,48.82 L159.80,48.74 L159.95,48.43 L160.10,47.97 L160.25,47.34 L160.40,46.55 L160.40,47.00 L160.60,17.00 L160.80,17.00 L161.15,41.30 L161.40,48.20 L161.70,49.10 L161.98,49.27 L162.27,49.19 L162.55,48.88 L162.83,48.42 L163.12,47.79 L163.40,47.00 L163.40,47.45 L163.60,14.00 L163.80,14.00 L164.15,40.89 L164.40,48.65 L164.70,49.55 L164.97,49.72 L165.23,49.64 L165.50,49.33 L165.77,48.87 L166.03,48.24 L166.30,47.45 L166.30,47.90 L166.50,10.90 L166.70,10.90 L167.05,40.45 L167.30,49.10 L167.60,50.00 L167.90,50.17 L168.20,50.09 L168.50,49.78 L168.80,49.32 L169.10,48.69 L169.40,47.90 L169.40,48.35 L169.60,8.30 L169.80,8.30 L170.15,40.14 L170.40,49.55 L170.70,50.45 L171.12,50.62 L171.53,50.54 L171.95,50.23 L172.37,49.77 L172.78,49.14 L173.20,48.35 L173.20,48.80 L173.40,7.10 L173.60,7.10 L173.95,40.18 L174.20,50.00 L174.50,50.90 L174.83,51.07 L175.17,50.99 L175.50,50.68 L175.83,50.22 L176.17,49.59 L176.50,48.80 L176.50,49.25 L176.70,7.10 L176.90,7.10 L177.25,40.51 L177.50,50.45 L177.80,51.35 L178.15,51.52 L178.50,51.44 L178.85,51.13 L179.20,50.67 L179.55,50.04 L179.90,49.25 L179.90,49.70 L180.10,7.10 L180.30,7.10 L180.65,40.85 L180.90,50.90 L181.20,51.80 L181.57,51.97 L181.93,51.89 L182.30,51.58 L182.67,51.12 L183.03,50.49 L183.40,49.70 L183.40,50.15 L183.60,7.10 L183.80,7.10 L184.15,41.19 L184.40,51.35 L184.70,52.25 L185.12,52.42 L185.53,52.34 L185.95,52.03 L186.37,51.57 L186.78,50.94 L187.20,50.15 L187.20,50.15 L187.40,7.10 L187.60,7.10 L187.95,41.19 L188.20,51.35 L188.50,52.25 L188.92,52.42 L189.33,52.34 L189.75,52.03 L190.17,51.57 L190.58,50.94 L191.00,50.15 L191.00,50.15 L191.20,7.10 L191.40,7.10 L191.75,41.19 L192.00,51.35 L192.30,52.25 L192.73,52.42 L193.17,52.34 L193.60,52.03 L194.03,51.57 L194.47,50.94 L194.90,50.15 L194.90,50.15 L195.10,7.10 L195.30,7.10 L195.65,41.19 L195.90,51.35 L196.20,52.25 L196.62,52.42 L197.03,52.34 L197.45,52.03 L197.87,51.57 L198.28,50.94 L198.70,50.15 L198.70,50.15 L198.90,7.10 L199.10,7.10 L199.45,41.19 L199.70,51.35 L200.00,52.25 L200.42,52.42 L200.83,52.34 L201.25,52.03 L201.67,51.57 L202.08,50.94 L202.50,50.15 L202.50,50.15 L202.70,7.10 L202.90,7.10 L203.25,41.19 L203.50,51.35 L203.80,52.25 L204.20,52.42 L204.60,52.34 L205.00,52.03 L205.40,51.57 L205.80,50.94 L206.20,50.15 L206.20,50.15 L206.40,7.10 L206.60,7.10 L206.95,41.19 L207.20,51.35 L207.50,52.25 L207.95,52.42 L208.40,52.34 L208.85,52.03 L209.30,51.57 L209.75,50.94 L210.20,50.15 L210.20,50.15 L210.40,7.10 L210.60,7.10 L210.95,41.19 L211.20,51.35 L211.50,52.25 L212.02,52.42 L212.53,52.34 L213.05,52.03 L213.57,51.57 L214.08,50.94 L214.60,50.15 L214.60,50.15 L214.80,7.10 L215.00,7.10 L215.35,41.19 L215.60,51.35 L215.90,52.25 L216.35,52.42 L216.80,52.34 L217.25,52.03 L217.70,51.57 L218.15,50.94 L218.60,50.15 L218.60,50.15 L218.80,7.10 L219.00,7.10 L219.35,41.19 L219.60,51.35 L219.90,52.25 L220.35,52.42 L220.80,52.34 L221.25,52.03 L221.70,51.57 L222.15,50.94 L222.60,50.15 L222.60,50.15 L222.80,7.10 L223.00,7.10 L223.35,41.19 L223.60,51.35 L223.90,52.25 L224.42,52.42 L224.93,52.34 L225.45,52.03 L225.97,51.57 L226.48,50.94 L227.00,50.15 L227.00,50.15 L227.20,7.10 L227.40,7.10 L227.75,41.19 L228.00,51.35 L228.30,52.25 L228.80,52.42 L229.30,52.34 L229.80,52.03 L230.30,51.57 L230.80,50.94 L231.30,50.15 L231.30,50.15 L231.50,7.10 L231.70,7.10 L232.05,41.19 L232.30,51.35 L232.60,52.25 L233.05,52.42 L233.50,52.34 L233.95,52.03 L234.40,51.57 L234.85,50.94 L235.30,50.15 L235.30,50.15 L235.50,7.10 L235.70,7.10 L236.05,41.19 L236.30,51.35 L236.60,52.25 L237.05,52.42 L237.50,52.34 L237.95,52.03 L238.40,51.57 L238.85,50.94 L239.30,50.15 L239.30,50.15 L239.50,7.10 L239.70,7.10 L240.05,41.19 L240.30,51.35 L240.60,52.25 L241.15,52.42 L241.70,52.34 L242.25,52.03 L242.80,51.57 L243.35,50.94 L243.90,50.15 L243.90,50.15 L244.10,7.10 L244.30,7.10 L244.65,41.19 L244.90,51.35 L245.20,52.25 L245.72,52.42 L246.23,52.34 L246.75,52.03 L247.27,51.57 L247.78,50.94 L248.30,50.15 L248.30,50.15 L248.50,7.10 L248.70,7.10 L249.05,41.19 L249.30,51.35 L249.60,52.25 L250.03,52.42 L250.47,52.34 L250.90,52.03 L251.33,51.57 L251.77,50.94 L252.20,50.15 L252.20,50.15 L252.40,7.10 L252.60,7.10 L252.95,41.19 L253.20,51.35 L253.50,52.25 L253.98,52.42 L254.47,52.34 L254.95,52.03 L255.43,51.57 L255.92,50.94 L256.40,50.15 L256.40,50.15 L256.60,7.10 L256.80,7.10 L257.15,41.19 L257.40,51.35 L257.70,52.25 L258.28,52.42 L258.87,52.34 L259.45,52.03 L260.03,51.57 L260.62,50.94 L261.20,50.15 L261.20,50.15 L261.40,7.10 L261.60,7.10 L261.95,41.19 L262.20,51.35 L262.50,52.25 L262.98,52.42 L263.47,52.34 L263.95,52.03 L264.43,51.57 L264.92,50.94 L265.40,50.15 L265.40,50.15 L265.60,7.10 L265.80,7.10 L266.15,41.19 L266.40,51.35 L266.70,52.00 L267.10,54.00 L267.80,57.50 L268.60,60.50 L269.60,62.20 L271.10,63.10 L273.60,63.50 L282.00,63.60" stroke="#4a4a4a" stroke-width="0.75" fill="none" stroke-linejoin="round"/>
<path d="M137.20,205.80 L158.30,205.80 L160.50,193.00 L160.50,190.40 L160.70,148.20 L160.90,148.20 L161.25,181.65 L161.50,191.60 L161.80,192.50 L161.70,192.67 L161.60,192.59 L161.50,192.28 L161.40,191.82 L161.30,191.19 L161.20,190.40 L161.20,190.80 L161.40,158.40 L161.60,158.40 L161.95,184.50 L162.20,192.00 L162.50,192.90 L162.67,193.07 L162.83,192.99 L163.00,192.68 L163.17,192.22 L163.33,191.59 L163.50,190.80 L163.50,191.20 L163.70,155.10 L163.90,155.10 L164.25,183.98 L164.50,192.40 L164.80,193.30 L165.22,193.47 L165.63,193.39 L166.05,193.08 L166.47,192.62 L166.88,191.99 L167.30,191.20 L167.30,191.60 L167.50,150.30 L167.70,150.30 L168.05,183.07 L168.30,192.80 L168.60,193.70 L169.22,193.87 L169.83,193.79 L170.45,193.48 L171.07,193.02 L171.68,192.39 L172.30,191.60 L172.30,192.00 L172.50,148.80 L172.70,148.80 L173.05,183.00 L173.30,193.20 L173.60,194.10 L174.57,194.27 L175.53,194.19 L176.50,193.88 L177.47,193.42 L178.43,192.79 L179.40,192.00 L179.40,192.40 L179.60,148.80 L179.80,148.80 L180.15,183.30 L180.40,193.60 L180.70,194.50 L181.38,194.67 L182.07,194.59 L182.75,194.28 L183.43,193.82 L184.12,193.19 L184.80,192.40 L184.80,192.80 L185.00,148.80 L185.20,148.80 L185.55,183.60 L185.80,194.00 L186.10,194.90 L186.80,195.07 L187.50,194.99 L188.20,194.68 L188.90,194.22 L189.60,193.59 L190.30,192.80 L190.30,192.80 L190.50,148.80 L190.70,148.80 L191.05,183.60 L191.30,194.00 L191.60,194.90 L192.20,195.07 L192.80,194.99 L193.40,194.68 L194.00,194.22 L194.60,193.59 L195.20,192.80 L195.20,192.80 L195.40,148.80 L195.60,148.80 L195.95,183.60 L196.20,194.00 L196.50,194.90 L197.20,195.07 L197.90,194.99 L198.60,194.68 L199.30,194.22 L200.00,193.59 L200.70,192.80 L200.70,192.80 L200.90,148.80 L201.10,148.80 L201.45,183.60 L201.70,194.00 L202.00,194.90 L202.68,195.07 L203.37,194.99 L204.05,194.68 L204.73,194.22 L205.42,193.59 L206.10,192.80 L206.10,192.80 L206.30,148.80 L206.50,148.80 L206.85,183.60 L207.10,194.00 L207.40,194.90 L208.00,195.07 L208.60,194.99 L209.20,194.68 L209.80,194.22 L210.40,193.59 L211.00,192.80 L211.00,192.80 L211.20,148.80 L211.40,148.80 L211.75,183.60 L212.00,194.00 L212.30,194.90 L212.93,195.07 L213.57,194.99 L214.20,194.68 L214.83,194.22 L215.47,193.59 L216.10,192.80 L216.10,192.80 L216.30,148.80 L216.50,148.80 L216.85,183.60 L217.10,194.00 L217.40,194.90 L218.03,195.07 L218.67,194.99 L219.30,194.68 L219.93,194.22 L220.57,193.59 L221.20,192.80 L221.20,192.80 L221.40,148.80 L221.60,148.80 L221.95,183.60 L222.20,194.00 L222.50,194.90 L223.10,195.07 L223.70,194.99 L224.30,194.68 L224.90,194.22 L225.50,193.59 L226.10,192.80 L226.10,192.80 L226.30,148.80 L226.50,148.80 L226.85,183.60 L227.10,194.00 L227.40,194.90 L228.08,195.07 L228.77,194.99 L229.45,194.68 L230.13,194.22 L230.82,193.59 L231.50,192.80 L231.50,192.80 L231.70,148.80 L231.90,148.80 L232.25,183.60 L232.50,194.00 L232.80,194.90 L233.43,195.07 L234.07,194.99 L234.70,194.68 L235.33,194.22 L235.97,193.59 L236.60,192.80 L236.60,192.80 L236.80,148.80 L237.00,148.80 L237.35,183.60 L237.60,194.00 L237.90,194.90 L238.50,195.07 L239.10,194.99 L239.70,194.68 L240.30,194.22 L240.90,193.59 L241.50,192.80 L241.50,192.80 L241.70,148.80 L241.90,148.80 L242.25,183.60 L242.50,194.00 L242.80,194.90 L243.42,195.07 L244.03,194.99 L244.65,194.68 L245.27,194.22 L245.88,193.59 L246.50,192.80 L246.50,192.80 L246.70,148.80 L246.90,148.80 L247.25,183.60 L247.50,194.00 L247.80,194.90 L248.47,195.07 L249.13,194.99 L249.80,194.68 L250.47,194.22 L251.13,193.59 L251.80,192.80 L251.80,192.80 L252.00,148.80 L252.20,148.80 L252.55,183.60 L252.80,194.00 L253.10,194.90 L253.72,195.07 L254.33,194.99 L254.95,194.68 L255.57,194.22 L256.18,193.59 L256.80,192.80 L256.80,192.80 L257.00,148.80 L257.20,148.80 L257.55,183.60 L257.80,194.00 L258.10,194.90 L258.80,195.07 L259.50,194.99 L260.20,194.68 L260.90,194.22 L261.60,193.59 L262.30,192.80 L262.30,192.80 L262.50,148.80 L262.70,148.80 L263.05,183.60 L263.30,194.00 L263.60,194.90 L264.22,195.07 L264.83,194.99 L265.45,194.68 L266.07,194.22 L266.68,193.59 L267.30,192.80 L267.30,192.80 L267.50,148.80 L267.70,148.80 L268.05,183.60 L268.30,194.00 L268.60,195.00 L269.00,196.00 L270.50,199.00 L272.50,203.00 L275.50,206.30 L279.50,207.60 L285.20,207.90" stroke="#4a4a4a" stroke-width="0.75" fill="none" stroke-linejoin="round"/>
<path d="M137.70,113.20 L158.30,113.20 L158.30,91.50 L267.40,91.50 L267.40,113.20 L283.00,113.20" stroke="#555" stroke-width="0.8" fill="none" />
<path d="M137.70,250.80 L158.30,250.80 L158.30,229.80 L267.40,229.80 L267.40,250.80 L283.00,250.80" stroke="#555" stroke-width="0.8" fill="none" />
<path d="M342.90,99.30 L364.00,99.30 L364.00,86.10 L472.90,86.10 L472.90,99.30 L488.00,99.30" stroke="#555" stroke-width="0.8" fill="none" />
<path d="M343.00,238.30 L364.20,238.30 L364.20,224.00 L472.60,224.00 L472.60,238.30 L488.00,238.30" stroke="#555" stroke-width="0.8" fill="none" />
<text x="160.40" y="104.70" font-size="11" text-anchor="start" fill="#444" font-weight="normal" >+290 pA</text>
<text x="160.40" y="242.90" font-size="11" text-anchor="start" fill="#444" font-weight="normal" >+290 pA</text>
<text x="365.20" y="98.60" font-size="11" text-anchor="start" fill="#444" font-weight="normal" >+190 pA</text>
<text x="365.20" y="237.40" font-size="11" text-anchor="start" fill="#444" font-weight="normal" >+190 pA</text>
<text x="134.80" y="75.80" font-size="11" text-anchor="start" fill="#3f8fd2" font-weight="normal" >High grade</text>
<text x="134.80" y="218.60" font-size="11" text-anchor="start" fill="#35b04f" font-weight="normal" >Low grade</text>
<text x="436.60" y="111.60" font-size="11" text-anchor="start" fill="#3f8fd2" font-weight="normal" >High grade</text>
<text x="439.30" y="250.20" font-size="11" text-anchor="start" fill="#35b04f" font-weight="normal" >Low grade</text>
<path d="M342.50,68.40 L363.00,68.40 L363.60,66.50 L364.60,64.30 L366.00,62.80 L368.00,62.00 L370.20,61.70 L370.20,61.30 L370.40,12.10 L370.75,22.10 L371.10,60.10 L371.80,61.90 L372.90,62.50 L374.40,62.20 L376.40,61.72 L385.00,61.21 L385.30,61.11 L385.50,12.10 L385.85,22.10 L386.20,59.91 L386.90,61.71 L388.00,62.31 L389.50,62.01 L391.50,61.54 L421.60,60.77 L421.90,60.67 L422.10,12.80 L422.45,22.80 L422.80,59.47 L423.50,61.27 L424.60,61.87 L426.10,61.57 L428.10,61.10 L449.60,60.44 L449.90,60.34 L450.10,12.80 L450.45,22.80 L450.80,59.14 L451.50,60.94 L452.60,61.54 L454.10,61.24 L456.10,60.77 L472.70,60.16 L473.40,60.20 L473.80,64.00 L474.60,66.50 L476.00,67.60 L479.00,68.10 L489.00,68.30" stroke="#4a4a4a" stroke-width="0.75" fill="none" stroke-linejoin="round"/>
<rect x="357.4" y="2.2" width="43.8" height="71.9" fill="none" stroke="#4a8fd0" stroke-width="1.2"/>
<path d="M524.10,96.80 L536.30,96.80 L536.60,95.00 L537.50,92.20 L539.50,89.80 L542.50,87.90 L547.00,86.20 L553.00,84.80 L560.00,83.50 L566.80,82.20 L567.10,1.30 L567.50,1.30 L567.90,60.00 L568.20,80.00 L569.00,82.00 L571.00,83.50 L575.00,84.80 L580.00,85.40 L590.00,85.20 L605.00,84.30 L620.00,83.00 L634.20,81.40 L634.60,1.60 L635.10,1.60 L635.60,60.00 L636.00,80.50 L637.00,81.60 L640.00,83.60 L645.00,85.30 L652.00,85.60 L665.00,85.00 L677.30,84.40" stroke="#4a4a4a" stroke-width="0.75" fill="none" stroke-linejoin="round"/>
<path d="M343.20,205.70 L363.90,205.70 L364.50,204.00 L365.60,201.80 L367.50,200.00 L370.00,199.10 L375.00,198.00 L380.00,196.80 L386.30,194.80 L386.60,147.10 L387.00,147.10 L387.30,180.00 L387.60,193.60 L389.00,194.60 L392.00,196.40 L396.00,198.20 L401.00,199.10 L420.00,198.90 L450.00,198.70 L471.80,198.70 L473.00,199.60 L475.00,202.00 L478.00,204.30 L482.00,205.80 L487.60,206.50" stroke="#4a4a4a" stroke-width="0.75" fill="none" stroke-linejoin="round"/>
<rect x="367.5" y="140.3" width="44" height="71.5" fill="none" stroke="#3aaa55" stroke-width="1.2"/>
<path d="M518.90,232.70 L540.00,230.60 L560.00,228.60 L575.00,227.20 L583.60,225.80 L584.30,200.00 L584.70,140.20 L585.20,140.20 L585.60,190.00 L586.00,222.60 L586.60,223.30 L590.00,223.80 L600.00,226.00 L615.00,229.30 L635.20,232.20 L655.00,233.40 L677.30,234.00" stroke="#4a4a4a" stroke-width="0.75" fill="none" stroke-linejoin="round"/>
<path d="M256.70,121.40 L256.70,132.00 L275.80,132.00" stroke="#555" stroke-width="0.8" fill="none" />
<text x="258.40" y="130.00" font-size="11" text-anchor="start" fill="#444" font-weight="normal" >20 mV</text>
<text x="254.80" y="144.20" font-size="11" text-anchor="start" fill="#444" font-weight="normal" >200 ms</text>
<path d="M462.20,3.90 L462.20,15.40 L481.20,15.40" stroke="#555" stroke-width="0.8" fill="none" />
<text x="465.60" y="10.80" font-size="11" text-anchor="start" fill="#444" font-weight="normal" >20 mV</text>
<text x="453.00" y="28.80" font-size="11" text-anchor="start" fill="#444" font-weight="normal" >200 ms</text>
<path d="M642.40,2.80 L642.40,27.60 L660.90,27.60" stroke="#555" stroke-width="0.8" fill="none" />
<text x="646.80" y="18.10" font-size="11" text-anchor="start" fill="#444" font-weight="normal" >20 mV</text>
<text x="640.20" y="40.30" font-size="11" text-anchor="start" fill="#444" font-weight="normal" >50 ms</text>
<path d="M461.50,143.20 L461.50,153.90 L480.80,153.90" stroke="#555" stroke-width="0.8" fill="none" />
<text x="465.60" y="149.80" font-size="11" text-anchor="start" fill="#444" font-weight="normal" >20 mV</text>
<text x="453.00" y="168.20" font-size="11" text-anchor="start" fill="#444" font-weight="normal" >200 ms</text>
<path d="M643.40,144.00 L643.40,168.30 L662.00,168.30" stroke="#555" stroke-width="0.8" fill="none" />
<text x="648.00" y="159.50" font-size="11" text-anchor="start" fill="#444" font-weight="normal" >20 mV</text>
<text x="638.30" y="182.50" font-size="11" text-anchor="start" fill="#444" font-weight="normal" >50 ms</text>
<circle cx="93.60" cy="312.30" r="2.0" fill="#66bc47"/>
<circle cx="91.00" cy="329.00" r="2.0" fill="#66bc47"/>
<circle cx="89.70" cy="334.80" r="2.0" fill="#66bc47"/>
<circle cx="126.00" cy="295.70" r="2.0" fill="#66bc47"/>
<circle cx="132.30" cy="295.30" r="2.0" fill="#66bc47"/>
<circle cx="143.50" cy="298.80" r="2.0" fill="#66bc47"/>
<circle cx="144.80" cy="299.60" r="2.0" fill="#66bc47"/>
<circle cx="140.90" cy="303.10" r="2.0" fill="#66bc47"/>
<circle cx="139.20" cy="304.90" r="2.0" fill="#66bc47"/>
<circle cx="138.30" cy="307.50" r="2.0" fill="#66bc47"/>
<circle cx="143.50" cy="304.00" r="2.0" fill="#66bc47"/>
<circle cx="162.40" cy="315.80" r="2.0" fill="#66bc47"/>
<circle cx="118.60" cy="325.90" r="2.0" fill="#66bc47"/>
<circle cx="145.30" cy="330.70" r="2.0" fill="#66bc47"/>
<circle cx="148.10" cy="333.10" r="2.0" fill="#66bc47"/>
<circle cx="137.00" cy="332.50" r="2.0" fill="#66bc47"/>
<circle cx="156.50" cy="328.10" r="2.0" fill="#66bc47"/>
<circle cx="163.20" cy="328.10" r="2.0" fill="#66bc47"/>
<circle cx="149.80" cy="337.70" r="2.0" fill="#66bc47"/>
<circle cx="108.10" cy="336.80" r="2.0" fill="#66bc47"/>
<circle cx="163.70" cy="336.80" r="2.0" fill="#66bc47"/>
<circle cx="165.00" cy="327.40" r="2.0" fill="#66bc47"/>
<circle cx="169.70" cy="333.30" r="2.0" fill="#66bc47"/>
<circle cx="172.90" cy="335.10" r="2.0" fill="#66bc47"/>
<circle cx="86.30" cy="359.90" r="2.0" fill="#66bc47"/>
<circle cx="104.20" cy="357.90" r="2.0" fill="#66bc47"/>
<circle cx="131.80" cy="342.40" r="2.0" fill="#66bc47"/>
<circle cx="136.00" cy="343.40" r="2.0" fill="#66bc47"/>
<circle cx="142.00" cy="342.40" r="2.0" fill="#66bc47"/>
<circle cx="144.20" cy="343.10" r="2.0" fill="#66bc47"/>
<circle cx="145.90" cy="347.30" r="2.0" fill="#66bc47"/>
<circle cx="157.70" cy="348.30" r="2.0" fill="#66bc47"/>
<circle cx="111.60" cy="347.30" r="2.0" fill="#66bc47"/>
<circle cx="119.70" cy="345.70" r="2.0" fill="#66bc47"/>
<circle cx="142.00" cy="353.80" r="2.0" fill="#66bc47"/>
<circle cx="108.70" cy="356.70" r="2.0" fill="#66bc47"/>
<circle cx="111.60" cy="360.20" r="2.0" fill="#66bc47"/>
<circle cx="115.30" cy="361.20" r="2.0" fill="#66bc47"/>
<circle cx="142.30" cy="362.10" r="2.0" fill="#66bc47"/>
<circle cx="120.90" cy="363.60" r="2.0" fill="#66bc47"/>
<circle cx="125.70" cy="365.80" r="2.0" fill="#66bc47"/>
<circle cx="114.30" cy="367.90" r="2.0" fill="#66bc47"/>
<circle cx="144.20" cy="369.70" r="2.0" fill="#66bc47"/>
<circle cx="107.90" cy="377.30" r="2.0" fill="#66bc47"/>
<circle cx="111.10" cy="377.90" r="2.0" fill="#66bc47"/>
<circle cx="141.50" cy="384.40" r="2.0" fill="#66bc47"/>
<circle cx="93.60" cy="309.40" r="2.0" fill="#2e48a6"/>
<circle cx="95.10" cy="313.80" r="2.0" fill="#2e48a6"/>
<circle cx="96.70" cy="318.20" r="2.0" fill="#2e48a6"/>
<circle cx="84.00" cy="315.40" r="2.0" fill="#2e48a6"/>
<circle cx="86.20" cy="315.40" r="2.0" fill="#2e48a6"/>
<circle cx="89.50" cy="321.30" r="2.0" fill="#2e48a6"/>
<circle cx="91.60" cy="329.40" r="2.0" fill="#2e48a6"/>
<circle cx="101.50" cy="331.00" r="2.0" fill="#2e48a6"/>
<circle cx="77.40" cy="333.60" r="2.0" fill="#2e48a6"/>
<circle cx="81.80" cy="334.20" r="2.0" fill="#2e48a6"/>
<circle cx="92.50" cy="335.10" r="2.0" fill="#2e48a6"/>
<circle cx="57.70" cy="338.20" r="2.0" fill="#2e48a6"/>
<circle cx="71.10" cy="338.20" r="2.0" fill="#2e48a6"/>
<circle cx="87.90" cy="339.50" r="2.0" fill="#2e48a6"/>
<circle cx="125.10" cy="297.40" r="2.0" fill="#2e48a6"/>
<circle cx="146.20" cy="303.60" r="2.0" fill="#2e48a6"/>
<circle cx="115.30" cy="308.00" r="2.0" fill="#2e48a6"/>
<circle cx="118.60" cy="308.80" r="2.0" fill="#2e48a6"/>
<circle cx="129.10" cy="307.10" r="2.0" fill="#2e48a6"/>
<circle cx="148.60" cy="308.40" r="2.0" fill="#2e48a6"/>
<circle cx="155.80" cy="307.50" r="2.0" fill="#2e48a6"/>
<circle cx="156.70" cy="310.60" r="2.0" fill="#2e48a6"/>
<circle cx="141.60" cy="315.40" r="2.0" fill="#2e48a6"/>
<circle cx="121.60" cy="317.60" r="2.0" fill="#2e48a6"/>
<circle cx="127.30" cy="316.70" r="2.0" fill="#2e48a6"/>
<circle cx="111.10" cy="318.90" r="2.0" fill="#2e48a6"/>
<circle cx="112.00" cy="321.10" r="2.0" fill="#2e48a6"/>
<circle cx="110.30" cy="323.30" r="2.0" fill="#2e48a6"/>
<circle cx="118.10" cy="323.30" r="2.0" fill="#2e48a6"/>
<circle cx="119.90" cy="322.40" r="2.0" fill="#2e48a6"/>
<circle cx="137.80" cy="322.60" r="2.0" fill="#2e48a6"/>
<circle cx="119.00" cy="328.10" r="2.0" fill="#2e48a6"/>
<circle cx="129.10" cy="327.50" r="2.0" fill="#2e48a6"/>
<circle cx="123.00" cy="330.10" r="2.0" fill="#2e48a6"/>
<circle cx="117.70" cy="331.20" r="2.0" fill="#2e48a6"/>
<circle cx="130.40" cy="334.20" r="2.0" fill="#2e48a6"/>
<circle cx="130.00" cy="337.30" r="2.0" fill="#2e48a6"/>
<circle cx="135.00" cy="336.40" r="2.0" fill="#2e48a6"/>
<circle cx="113.80" cy="337.70" r="2.0" fill="#2e48a6"/>
<circle cx="106.30" cy="338.20" r="2.0" fill="#2e48a6"/>
<circle cx="170.70" cy="341.20" r="2.0" fill="#2e48a6"/>
<circle cx="118.60" cy="340.20" r="2.0" fill="#2e48a6"/>
<circle cx="63.80" cy="341.70" r="2.0" fill="#2e48a6"/>
<circle cx="58.80" cy="344.40" r="2.0" fill="#2e48a6"/>
<circle cx="55.90" cy="346.60" r="2.0" fill="#2e48a6"/>
<circle cx="70.90" cy="343.40" r="2.0" fill="#2e48a6"/>
<circle cx="82.30" cy="342.90" r="2.0" fill="#2e48a6"/>
<circle cx="93.20" cy="342.70" r="2.0" fill="#2e48a6"/>
<circle cx="103.70" cy="340.90" r="2.0" fill="#2e48a6"/>
<circle cx="100.80" cy="347.60" r="2.0" fill="#2e48a6"/>
<circle cx="78.40" cy="349.30" r="2.0" fill="#2e48a6"/>
<circle cx="82.00" cy="349.30" r="2.0" fill="#2e48a6"/>
<circle cx="83.30" cy="350.60" r="2.0" fill="#2e48a6"/>
<circle cx="90.90" cy="351.80" r="2.0" fill="#2e48a6"/>
<circle cx="94.40" cy="351.80" r="2.0" fill="#2e48a6"/>
<circle cx="69.20" cy="352.80" r="2.0" fill="#2e48a6"/>
<circle cx="50.90" cy="355.90" r="2.0" fill="#2e48a6"/>
<circle cx="51.90" cy="355.90" r="2.0" fill="#2e48a6"/>
<circle cx="65.20" cy="355.70" r="2.0" fill="#2e48a6"/>
<circle cx="79.40" cy="356.90" r="2.0" fill="#2e48a6"/>
<circle cx="98.80" cy="355.20" r="2.0" fill="#2e48a6"/>
<circle cx="89.20" cy="358.20" r="2.0" fill="#2e48a6"/>
<circle cx="91.70" cy="360.20" r="2.0" fill="#2e48a6"/>
<circle cx="97.80" cy="360.50" r="2.0" fill="#2e48a6"/>
<circle cx="66.70" cy="363.80" r="2.0" fill="#2e48a6"/>
<circle cx="77.10" cy="364.10" r="2.0" fill="#2e48a6"/>
<circle cx="87.40" cy="365.80" r="2.0" fill="#2e48a6"/>
<circle cx="95.80" cy="365.60" r="2.0" fill="#2e48a6"/>
<circle cx="103.70" cy="366.10" r="2.0" fill="#2e48a6"/>
<circle cx="89.10" cy="371.30" r="2.0" fill="#2e48a6"/>
<circle cx="97.00" cy="377.40" r="2.0" fill="#2e48a6"/>
<circle cx="101.00" cy="376.00" r="2.0" fill="#2e48a6"/>
<circle cx="124.00" cy="343.70" r="2.0" fill="#2e48a6"/>
<circle cx="140.70" cy="345.10" r="2.0" fill="#2e48a6"/>
<circle cx="157.50" cy="344.10" r="2.0" fill="#2e48a6"/>
<circle cx="122.90" cy="348.80" r="2.0" fill="#2e48a6"/>
<circle cx="122.90" cy="350.80" r="2.0" fill="#2e48a6"/>
<circle cx="131.80" cy="349.30" r="2.0" fill="#2e48a6"/>
<circle cx="106.90" cy="351.30" r="2.0" fill="#2e48a6"/>
<circle cx="109.70" cy="352.00" r="2.0" fill="#2e48a6"/>
<circle cx="115.30" cy="352.80" r="2.0" fill="#2e48a6"/>
<circle cx="127.10" cy="353.80" r="2.0" fill="#2e48a6"/>
<circle cx="129.10" cy="354.00" r="2.0" fill="#2e48a6"/>
<circle cx="120.20" cy="354.50" r="2.0" fill="#2e48a6"/>
<circle cx="118.30" cy="356.70" r="2.0" fill="#2e48a6"/>
<circle cx="139.30" cy="354.50" r="2.0" fill="#2e48a6"/>
<circle cx="141.30" cy="355.90" r="2.0" fill="#2e48a6"/>
<circle cx="153.00" cy="353.80" r="2.0" fill="#2e48a6"/>
<circle cx="120.90" cy="359.70" r="2.0" fill="#2e48a6"/>
<circle cx="134.70" cy="359.00" r="2.0" fill="#2e48a6"/>
<circle cx="128.40" cy="363.10" r="2.0" fill="#2e48a6"/>
<circle cx="131.60" cy="365.80" r="2.0" fill="#2e48a6"/>
<circle cx="132.80" cy="368.60" r="2.0" fill="#2e48a6"/>
<circle cx="106.10" cy="372.30" r="2.0" fill="#2e48a6"/>
<circle cx="121.90" cy="372.80" r="2.0" fill="#2e48a6"/>
<circle cx="142.30" cy="386.10" r="2.0" fill="#2e48a6"/>
<line x1="45.70" y1="293.60" x2="45.70" y2="390.30" stroke="#858585" stroke-width="1.2" />
<line x1="45.70" y1="390.30" x2="187.90" y2="390.30" stroke="#858585" stroke-width="1.2" />
<line x1="42.40" y1="299.20" x2="45.70" y2="299.20" stroke="#858585" stroke-width="1.2" />
<text x="38.90" y="302.90" font-size="10.5" text-anchor="end" fill="#444" font-weight="normal" >8</text>
<line x1="42.40" y1="321.80" x2="45.70" y2="321.80" stroke="#858585" stroke-width="1.2" />
<text x="38.90" y="325.50" font-size="10.5" text-anchor="end" fill="#444" font-weight="normal" >4</text>
<line x1="42.40" y1="344.30" x2="45.70" y2="344.30" stroke="#858585" stroke-width="1.2" />
<text x="38.90" y="348.00" font-size="10.5" text-anchor="end" fill="#444" font-weight="normal" >0</text>
<line x1="42.40" y1="366.90" x2="45.70" y2="366.90" stroke="#858585" stroke-width="1.2" />
<text x="38.90" y="370.60" font-size="10.5" text-anchor="end" fill="#444" font-weight="normal" >−4</text>
<line x1="42.40" y1="389.50" x2="45.70" y2="389.50" stroke="#858585" stroke-width="1.2" />
<text x="38.90" y="393.20" font-size="10.5" text-anchor="end" fill="#444" font-weight="normal" >−8</text>
<line x1="53.90" y1="390.30" x2="53.90" y2="393.80" stroke="#858585" stroke-width="1.2" />
<text x="53.90" y="404.60" font-size="10.5" text-anchor="middle" fill="#444" font-weight="normal" >−8</text>
<line x1="87.30" y1="390.30" x2="87.30" y2="393.80" stroke="#858585" stroke-width="1.2" />
<text x="87.30" y="404.60" font-size="10.5" text-anchor="middle" fill="#444" font-weight="normal" >−4</text>
<line x1="120.70" y1="390.30" x2="120.70" y2="393.80" stroke="#858585" stroke-width="1.2" />
<text x="120.70" y="404.60" font-size="10.5" text-anchor="middle" fill="#444" font-weight="normal" >0</text>
<line x1="154.10" y1="390.30" x2="154.10" y2="393.80" stroke="#858585" stroke-width="1.2" />
<text x="154.10" y="404.60" font-size="10.5" text-anchor="middle" fill="#444" font-weight="normal" >4</text>
<line x1="187.50" y1="390.30" x2="187.50" y2="393.80" stroke="#858585" stroke-width="1.2" />
<text x="187.50" y="404.60" font-size="10.5" text-anchor="middle" fill="#444" font-weight="normal" >8</text>
<text x="116.80" y="420.00" font-size="11" text-anchor="middle" fill="#444" font-weight="normal" ><tspan font-style="italic">t</tspan>-SNE component 1</text>
<text x="0.00" y="0.00" font-size="11" text-anchor="middle" fill="#444" font-weight="normal" transform="translate(20.6,343.7) rotate(-90)"><tspan font-style="italic">t</tspan>-SNE component 2</text>
<text x="214.40" y="371.40" font-size="11" text-anchor="end" fill="#3f8fd2" font-weight="normal" >High grade</text>
<text x="213.20" y="383.70" font-size="11" text-anchor="end" fill="#2aa552" font-weight="normal" >Low grade</text>
<line x1="151.60" y1="271.10" x2="151.60" y2="303.00" stroke="#858585" stroke-width="0.7" />
<line x1="151.60" y1="303.00" x2="211.90" y2="303.00" stroke="#858585" stroke-width="0.7" />
<line x1="150.10" y1="271.10" x2="151.60" y2="271.10" stroke="#858585" stroke-width="0.6" />
<line x1="150.10" y1="277.80" x2="151.60" y2="277.80" stroke="#858585" stroke-width="0.6" />
<line x1="150.10" y1="284.40" x2="151.60" y2="284.40" stroke="#858585" stroke-width="0.6" />
<line x1="150.10" y1="290.50" x2="151.60" y2="290.50" stroke="#858585" stroke-width="0.6" />
<line x1="150.10" y1="296.70" x2="151.60" y2="296.70" stroke="#858585" stroke-width="0.6" />
<line x1="154.70" y1="303.00" x2="154.70" y2="304.80" stroke="#858585" stroke-width="0.6" />
<line x1="161.30" y1="303.00" x2="161.30" y2="304.80" stroke="#858585" stroke-width="0.6" />
<line x1="168.00" y1="303.00" x2="168.00" y2="304.80" stroke="#858585" stroke-width="0.6" />
<line x1="174.60" y1="303.00" x2="174.60" y2="304.80" stroke="#858585" stroke-width="0.6" />
<line x1="181.30" y1="303.00" x2="181.30" y2="304.80" stroke="#858585" stroke-width="0.6" />
<line x1="188.40" y1="303.00" x2="188.40" y2="304.80" stroke="#858585" stroke-width="0.6" />
<line x1="195.60" y1="303.00" x2="195.60" y2="304.80" stroke="#858585" stroke-width="0.6" />
<line x1="202.20" y1="303.00" x2="202.20" y2="304.80" stroke="#858585" stroke-width="0.6" />
<line x1="208.90" y1="303.00" x2="208.90" y2="304.80" stroke="#858585" stroke-width="0.6" />
<rect x="151.60" y="300.30" width="2.2" height="2.70" fill="#5b8fd6"/>
<rect x="158.70" y="294.10" width="2.2" height="8.90" fill="#5b8fd6"/>
<rect x="165.60" y="289.00" width="2.2" height="14.00" fill="#5b8fd6"/>
<rect x="172.50" y="275.20" width="2.2" height="27.80" fill="#5b8fd6"/>
<rect x="179.20" y="277.80" width="2.2" height="25.20" fill="#5b8fd6"/>
<rect x="186.00" y="274.20" width="2.2" height="28.80" fill="#5b8fd6"/>
<rect x="192.70" y="291.60" width="2.2" height="11.40" fill="#5b8fd6"/>
<rect x="199.60" y="297.70" width="2.2" height="5.30" fill="#5b8fd6"/>
<path d="M151.60,303.00 L159.80,294.10 L166.70,289.00 L173.60,275.20 L180.30,277.80 L187.10,274.20 L193.80,291.60 L200.70,298.50 L203.00,300.00" stroke="#5b8fd6" stroke-width="0.8" fill="none" />
<rect x="174.60" y="298.20" width="2.2" height="4.80" fill="#1fb04a"/>
<rect x="181.70" y="289.00" width="2.2" height="14.00" fill="#1fb04a"/>
<rect x="188.40" y="294.60" width="2.2" height="8.40" fill="#1fb04a"/>
<rect x="195.50" y="281.90" width="2.2" height="21.10" fill="#1fb04a"/>
<rect x="202.10" y="294.10" width="2.2" height="8.90" fill="#1fb04a"/>
<path d="M173.50,300.50 L182.80,289.00 L189.50,294.60 L196.60,281.90 L203.20,294.10 L210.90,302.80" stroke="#1fb04a" stroke-width="0.8" fill="none" />
<line x1="268.60" y1="338.00" x2="268.60" y2="373.00" stroke="#2db35a" stroke-width="0.8" />
<line x1="273.57" y1="341.90" x2="273.57" y2="369.90" stroke="#2db35a" stroke-width="0.8" />
<line x1="278.54" y1="344.30" x2="278.54" y2="371.30" stroke="#2db35a" stroke-width="0.8" />
<line x1="283.51" y1="348.90" x2="283.51" y2="373.90" stroke="#2db35a" stroke-width="0.8" />
<line x1="288.48" y1="351.40" x2="288.48" y2="369.40" stroke="#2db35a" stroke-width="0.8" />
<line x1="293.45" y1="351.30" x2="293.45" y2="368.30" stroke="#2db35a" stroke-width="0.8" />
<line x1="298.42" y1="343.40" x2="298.42" y2="360.40" stroke="#2db35a" stroke-width="0.8" />
<line x1="303.39" y1="343.00" x2="303.39" y2="357.00" stroke="#2db35a" stroke-width="0.8" />
<line x1="308.36" y1="337.60" x2="308.36" y2="351.60" stroke="#2db35a" stroke-width="0.8" />
<line x1="313.33" y1="339.50" x2="313.33" y2="352.50" stroke="#2db35a" stroke-width="0.8" />
<line x1="318.30" y1="335.60" x2="318.30" y2="348.60" stroke="#2db35a" stroke-width="0.8" />
<line x1="323.27" y1="328.20" x2="323.27" y2="342.20" stroke="#2db35a" stroke-width="0.8" />
<line x1="328.24" y1="332.00" x2="328.24" y2="345.00" stroke="#2db35a" stroke-width="0.8" />
<line x1="333.21" y1="329.10" x2="333.21" y2="342.10" stroke="#2db35a" stroke-width="0.8" />
<line x1="338.18" y1="325.80" x2="338.18" y2="337.80" stroke="#2db35a" stroke-width="0.8" />
<line x1="343.15" y1="323.80" x2="343.15" y2="336.80" stroke="#2db35a" stroke-width="0.8" />
<line x1="348.12" y1="329.20" x2="348.12" y2="341.20" stroke="#2db35a" stroke-width="0.8" />
<line x1="353.09" y1="328.70" x2="353.09" y2="339.70" stroke="#2db35a" stroke-width="0.8" />
<line x1="358.06" y1="325.30" x2="358.06" y2="336.30" stroke="#2db35a" stroke-width="0.8" />
<line x1="363.03" y1="320.30" x2="363.03" y2="330.30" stroke="#2db35a" stroke-width="0.8" />
<line x1="368.00" y1="320.30" x2="368.00" y2="330.30" stroke="#2db35a" stroke-width="0.8" />
<line x1="372.97" y1="315.90" x2="372.97" y2="324.90" stroke="#2db35a" stroke-width="0.8" />
<line x1="377.94" y1="315.90" x2="377.94" y2="324.90" stroke="#2db35a" stroke-width="0.8" />
<line x1="382.91" y1="313.90" x2="382.91" y2="322.90" stroke="#2db35a" stroke-width="0.8" />
<line x1="387.88" y1="310.10" x2="387.88" y2="318.10" stroke="#2db35a" stroke-width="0.8" />
<line x1="392.85" y1="312.90" x2="392.85" y2="320.90" stroke="#2db35a" stroke-width="0.8" />
<path d="M268.60,355.50 L273.57,355.90 L278.54,357.80 L283.51,361.40 L288.48,360.40 L293.45,359.80 L298.42,351.90 L303.39,350.00 L308.36,344.60 L313.33,346.00 L318.30,342.10 L323.27,335.20 L328.24,338.50 L333.21,335.60 L338.18,331.80 L343.15,330.30 L348.12,335.20 L353.09,334.20 L358.06,330.80 L363.03,325.30 L368.00,325.30 L372.97,320.40 L377.94,320.40 L382.91,318.40 L387.88,314.10 L392.85,316.90" stroke="#2db35a" stroke-width="0.8" fill="none" />
<circle cx="268.60" cy="355.50" r="1.5" fill="#2db35a"/>
<circle cx="273.57" cy="355.90" r="1.5" fill="#2db35a"/>
<circle cx="278.54" cy="357.80" r="1.5" fill="#2db35a"/>
<circle cx="283.51" cy="361.40" r="1.5" fill="#2db35a"/>
<circle cx="288.48" cy="360.40" r="1.5" fill="#2db35a"/>
<circle cx="293.45" cy="359.80" r="1.5" fill="#2db35a"/>
<circle cx="298.42" cy="351.90" r="1.5" fill="#2db35a"/>
<circle cx="303.39" cy="350.00" r="1.5" fill="#2db35a"/>
<circle cx="308.36" cy="344.60" r="1.5" fill="#2db35a"/>
<circle cx="313.33" cy="346.00" r="1.5" fill="#2db35a"/>
<circle cx="318.30" cy="342.10" r="1.5" fill="#2db35a"/>
<circle cx="323.27" cy="335.20" r="1.5" fill="#2db35a"/>
<circle cx="328.24" cy="338.50" r="1.5" fill="#2db35a"/>
<circle cx="333.21" cy="335.60" r="1.5" fill="#2db35a"/>
<circle cx="338.18" cy="331.80" r="1.5" fill="#2db35a"/>
<circle cx="343.15" cy="330.30" r="1.5" fill="#2db35a"/>
<circle cx="348.12" cy="335.20" r="1.5" fill="#2db35a"/>
<circle cx="353.09" cy="334.20" r="1.5" fill="#2db35a"/>
<circle cx="358.06" cy="330.80" r="1.5" fill="#2db35a"/>
<circle cx="363.03" cy="325.30" r="1.5" fill="#2db35a"/>
<circle cx="368.00" cy="325.30" r="1.5" fill="#2db35a"/>
<circle cx="372.97" cy="320.40" r="1.5" fill="#2db35a"/>
<circle cx="377.94" cy="320.40" r="1.5" fill="#2db35a"/>
<circle cx="382.91" cy="318.40" r="1.5" fill="#2db35a"/>
<circle cx="387.88" cy="314.10" r="1.5" fill="#2db35a"/>
<circle cx="392.85" cy="316.90" r="1.5" fill="#2db35a"/>
<line x1="268.60" y1="352.40" x2="268.60" y2="359.40" stroke="#5b8ed6" stroke-width="0.8" />
<line x1="273.57" y1="343.50" x2="273.57" y2="350.50" stroke="#5b8ed6" stroke-width="0.8" />
<line x1="278.54" y1="351.00" x2="278.54" y2="358.00" stroke="#5b8ed6" stroke-width="0.8" />
<line x1="283.51" y1="345.10" x2="283.51" y2="352.10" stroke="#5b8ed6" stroke-width="0.8" />
<line x1="288.48" y1="336.20" x2="288.48" y2="343.20" stroke="#5b8ed6" stroke-width="0.8" />
<line x1="293.45" y1="333.30" x2="293.45" y2="340.30" stroke="#5b8ed6" stroke-width="0.8" />
<line x1="298.42" y1="331.70" x2="298.42" y2="338.70" stroke="#5b8ed6" stroke-width="0.8" />
<line x1="303.39" y1="332.30" x2="303.39" y2="339.30" stroke="#5b8ed6" stroke-width="0.8" />
<line x1="308.36" y1="329.80" x2="308.36" y2="335.80" stroke="#5b8ed6" stroke-width="0.8" />
<line x1="313.33" y1="324.30" x2="313.33" y2="330.30" stroke="#5b8ed6" stroke-width="0.8" />
<line x1="318.30" y1="320.80" x2="318.30" y2="326.80" stroke="#5b8ed6" stroke-width="0.8" />
<line x1="323.27" y1="315.40" x2="323.27" y2="321.40" stroke="#5b8ed6" stroke-width="0.8" />
<line x1="328.24" y1="317.40" x2="328.24" y2="323.40" stroke="#5b8ed6" stroke-width="0.8" />
<line x1="333.21" y1="316.00" x2="333.21" y2="322.00" stroke="#5b8ed6" stroke-width="0.8" />
<line x1="338.18" y1="315.80" x2="338.18" y2="321.80" stroke="#5b8ed6" stroke-width="0.8" />
<line x1="343.15" y1="312.10" x2="343.15" y2="318.10" stroke="#5b8ed6" stroke-width="0.8" />
<line x1="348.12" y1="307.00" x2="348.12" y2="313.00" stroke="#5b8ed6" stroke-width="0.8" />
<line x1="353.09" y1="307.50" x2="353.09" y2="313.50" stroke="#5b8ed6" stroke-width="0.8" />
<line x1="358.06" y1="304.20" x2="358.06" y2="310.20" stroke="#5b8ed6" stroke-width="0.8" />
<line x1="363.03" y1="304.20" x2="363.03" y2="310.20" stroke="#5b8ed6" stroke-width="0.8" />
<line x1="368.00" y1="307.50" x2="368.00" y2="313.50" stroke="#5b8ed6" stroke-width="0.8" />
<line x1="372.97" y1="305.20" x2="372.97" y2="311.20" stroke="#5b8ed6" stroke-width="0.8" />
<line x1="377.94" y1="306.20" x2="377.94" y2="312.20" stroke="#5b8ed6" stroke-width="0.8" />
<line x1="382.91" y1="307.00" x2="382.91" y2="313.00" stroke="#5b8ed6" stroke-width="0.8" />
<line x1="387.88" y1="309.10" x2="387.88" y2="315.10" stroke="#5b8ed6" stroke-width="0.8" />
<line x1="392.85" y1="308.10" x2="392.85" y2="314.10" stroke="#5b8ed6" stroke-width="0.8" />
<path d="M268.60,355.90 L273.57,347.00 L278.54,354.50 L283.51,348.60 L288.48,339.70 L293.45,336.80 L298.42,335.20 L303.39,335.80 L308.36,332.80 L313.33,327.30 L318.30,323.80 L323.27,318.40 L328.24,320.40 L333.21,319.00 L338.18,318.80 L343.15,315.10 L348.12,310.00 L353.09,310.50 L358.06,307.20 L363.03,307.20 L368.00,310.50 L372.97,308.20 L377.94,309.20 L382.91,310.00 L387.88,312.10 L392.85,311.10" stroke="#5b8ed6" stroke-width="0.8" fill="none" />
<circle cx="268.60" cy="355.90" r="1.4" fill="#5b8ed6"/>
<circle cx="273.57" cy="347.00" r="1.4" fill="#5b8ed6"/>
<circle cx="278.54" cy="354.50" r="1.4" fill="#5b8ed6"/>
<circle cx="283.51" cy="348.60" r="1.4" fill="#5b8ed6"/>
<circle cx="288.48" cy="339.70" r="1.4" fill="#5b8ed6"/>
<circle cx="293.45" cy="336.80" r="1.4" fill="#5b8ed6"/>
<circle cx="298.42" cy="335.20" r="1.4" fill="#5b8ed6"/>
<circle cx="303.39" cy="335.80" r="1.4" fill="#5b8ed6"/>
<circle cx="308.36" cy="332.80" r="1.4" fill="#5b8ed6"/>
<circle cx="313.33" cy="327.30" r="1.4" fill="#5b8ed6"/>
<circle cx="318.30" cy="323.80" r="1.4" fill="#5b8ed6"/>
<circle cx="323.27" cy="318.40" r="1.4" fill="#5b8ed6"/>
<circle cx="328.24" cy="320.40" r="1.4" fill="#5b8ed6"/>
<circle cx="333.21" cy="319.00" r="1.4" fill="#5b8ed6"/>
<circle cx="338.18" cy="318.80" r="1.4" fill="#5b8ed6"/>
<circle cx="343.15" cy="315.10" r="1.4" fill="#5b8ed6"/>
<circle cx="348.12" cy="310.00" r="1.4" fill="#5b8ed6"/>
<circle cx="353.09" cy="310.50" r="1.4" fill="#5b8ed6"/>
<circle cx="358.06" cy="307.20" r="1.4" fill="#5b8ed6"/>
<circle cx="363.03" cy="307.20" r="1.4" fill="#5b8ed6"/>
<circle cx="368.00" cy="310.50" r="1.4" fill="#5b8ed6"/>
<circle cx="372.97" cy="308.20" r="1.4" fill="#5b8ed6"/>
<circle cx="377.94" cy="309.20" r="1.4" fill="#5b8ed6"/>
<circle cx="382.91" cy="310.00" r="1.4" fill="#5b8ed6"/>
<circle cx="387.88" cy="312.10" r="1.4" fill="#5b8ed6"/>
<circle cx="392.85" cy="311.10" r="1.4" fill="#5b8ed6"/>
<line x1="268.50" y1="291.10" x2="268.50" y2="390.00" stroke="#858585" stroke-width="1.2" />
<line x1="268.50" y1="390.00" x2="393.90" y2="390.00" stroke="#858585" stroke-width="1.2" />
<line x1="265.30" y1="291.10" x2="268.50" y2="291.10" stroke="#858585" stroke-width="1.2" />
<text x="262.00" y="294.80" font-size="10.5" text-anchor="end" fill="#444" font-weight="normal" >25</text>
<line x1="265.30" y1="316.40" x2="268.50" y2="316.40" stroke="#858585" stroke-width="1.2" />
<text x="262.00" y="320.10" font-size="10.5" text-anchor="end" fill="#444" font-weight="normal" >20</text>
<line x1="265.30" y1="340.70" x2="268.50" y2="340.70" stroke="#858585" stroke-width="1.2" />
<text x="262.00" y="344.40" font-size="10.5" text-anchor="end" fill="#444" font-weight="normal" >15</text>
<line x1="265.30" y1="365.00" x2="268.50" y2="365.00" stroke="#858585" stroke-width="1.2" />
<text x="262.00" y="368.70" font-size="10.5" text-anchor="end" fill="#444" font-weight="normal" >10</text>
<line x1="265.30" y1="390.00" x2="268.50" y2="390.00" stroke="#858585" stroke-width="1.2" />
<text x="262.00" y="393.70" font-size="10.5" text-anchor="end" fill="#444" font-weight="normal" >0</text>
<line x1="270.70" y1="390.00" x2="270.70" y2="393.30" stroke="#858585" stroke-width="1.2" />
<text x="270.70" y="404.80" font-size="10.5" text-anchor="middle" fill="#444" font-weight="normal" >90</text>
<line x1="295.35" y1="390.00" x2="295.35" y2="393.30" stroke="#858585" stroke-width="1.2" />
<text x="295.35" y="404.80" font-size="10.5" text-anchor="middle" fill="#444" font-weight="normal" >190</text>
<line x1="320.00" y1="390.00" x2="320.00" y2="393.30" stroke="#858585" stroke-width="1.2" />
<text x="320.00" y="404.80" font-size="10.5" text-anchor="middle" fill="#444" font-weight="normal" >290</text>
<line x1="344.65" y1="390.00" x2="344.65" y2="393.30" stroke="#858585" stroke-width="1.2" />
<text x="344.65" y="404.80" font-size="10.5" text-anchor="middle" fill="#444" font-weight="normal" >390</text>
<line x1="369.30" y1="390.00" x2="369.30" y2="393.30" stroke="#858585" stroke-width="1.2" />
<text x="369.30" y="404.80" font-size="10.5" text-anchor="middle" fill="#444" font-weight="normal" >490</text>
<line x1="393.95" y1="390.00" x2="393.95" y2="393.30" stroke="#858585" stroke-width="1.2" />
<text x="393.95" y="404.80" font-size="10.5" text-anchor="middle" fill="#444" font-weight="normal" >590</text>
<text x="331.00" y="421.50" font-size="11" text-anchor="middle" fill="#444" font-weight="normal" >Injected current (pA)</text>
<text x="0.00" y="0.00" font-size="11" text-anchor="middle" fill="#444" font-weight="normal" transform="translate(239.8,340.6) rotate(-90)">Firing rate (Hz)</text>
<polygon points="334.07,285.00 334.69,286.60 336.41,286.69 335.07,287.77 335.52,289.43 334.07,288.50 332.63,289.43 333.08,287.77 331.74,286.69 333.46,286.60" fill="#333"/>
<polygon points="339.93,285.00 340.54,286.60 342.26,286.69 340.92,287.77 341.37,289.43 339.93,288.50 338.48,289.43 338.93,287.77 337.59,286.69 339.31,286.60" fill="#333"/>
<text x="413.80" y="371.60" font-size="11" text-anchor="end" fill="#3f8fd2" font-weight="normal" >High grade</text>
<text x="412.20" y="383.90" font-size="11" text-anchor="end" fill="#2aa552" font-weight="normal" >Low grade</text>
<circle cx="503.60" cy="307.10" r="1.6" fill="#5b8fd6"/>
<circle cx="503.60" cy="336.70" r="1.6" fill="#5b8fd6"/>
<circle cx="503.60" cy="339.80" r="1.6" fill="#5b8fd6"/>
<circle cx="503.60" cy="343.20" r="1.6" fill="#5b8fd6"/>
<circle cx="503.60" cy="346.70" r="1.6" fill="#5b8fd6"/>
<circle cx="503.60" cy="350.20" r="1.6" fill="#5b8fd6"/>
<circle cx="503.60" cy="353.60" r="1.6" fill="#5b8fd6"/>
<circle cx="502.35" cy="357.10" r="1.6" fill="#5b8fd6"/>
<circle cx="504.85" cy="357.10" r="1.6" fill="#5b8fd6"/>
<circle cx="501.10" cy="360.20" r="1.6" fill="#5b8fd6"/>
<circle cx="503.60" cy="360.20" r="1.6" fill="#5b8fd6"/>
<circle cx="506.10" cy="360.20" r="1.6" fill="#5b8fd6"/>
<circle cx="501.10" cy="363.40" r="1.6" fill="#5b8fd6"/>
<circle cx="503.60" cy="363.40" r="1.6" fill="#5b8fd6"/>
<circle cx="506.10" cy="363.40" r="1.6" fill="#5b8fd6"/>
<circle cx="501.10" cy="366.60" r="1.6" fill="#5b8fd6"/>
<circle cx="503.60" cy="366.60" r="1.6" fill="#5b8fd6"/>
<circle cx="506.10" cy="366.60" r="1.6" fill="#5b8fd6"/>
<circle cx="501.10" cy="369.70" r="1.6" fill="#5b8fd6"/>
<circle cx="503.60" cy="369.70" r="1.6" fill="#5b8fd6"/>
<circle cx="506.10" cy="369.70" r="1.6" fill="#5b8fd6"/>
<circle cx="498.60" cy="373.20" r="1.6" fill="#5b8fd6"/>
<circle cx="501.10" cy="373.20" r="1.6" fill="#5b8fd6"/>
<circle cx="503.60" cy="373.20" r="1.6" fill="#5b8fd6"/>
<circle cx="506.10" cy="373.20" r="1.6" fill="#5b8fd6"/>
<circle cx="508.60" cy="373.20" r="1.6" fill="#5b8fd6"/>
<circle cx="496.10" cy="376.00" r="1.6" fill="#5b8fd6"/>
<circle cx="498.60" cy="376.00" r="1.6" fill="#5b8fd6"/>
<circle cx="501.10" cy="376.00" r="1.6" fill="#5b8fd6"/>
<circle cx="503.60" cy="376.00" r="1.6" fill="#5b8fd6"/>
<circle cx="506.10" cy="376.00" r="1.6" fill="#5b8fd6"/>
<circle cx="508.60" cy="376.00" r="1.6" fill="#5b8fd6"/>
<circle cx="511.10" cy="376.00" r="1.6" fill="#5b8fd6"/>
<circle cx="499.85" cy="379.50" r="1.6" fill="#5b8fd6"/>
<circle cx="502.35" cy="379.50" r="1.6" fill="#5b8fd6"/>
<circle cx="504.85" cy="379.50" r="1.6" fill="#5b8fd6"/>
<circle cx="507.35" cy="379.50" r="1.6" fill="#5b8fd6"/>
<circle cx="498.60" cy="383.20" r="1.6" fill="#5b8fd6"/>
<circle cx="501.10" cy="383.20" r="1.6" fill="#5b8fd6"/>
<circle cx="503.60" cy="383.20" r="1.6" fill="#5b8fd6"/>
<circle cx="506.10" cy="383.20" r="1.6" fill="#5b8fd6"/>
<circle cx="508.60" cy="383.20" r="1.6" fill="#5b8fd6"/>
<circle cx="499.85" cy="386.40" r="1.6" fill="#5b8fd6"/>
<circle cx="502.35" cy="386.40" r="1.6" fill="#5b8fd6"/>
<circle cx="504.85" cy="386.40" r="1.6" fill="#5b8fd6"/>
<circle cx="507.35" cy="386.40" r="1.6" fill="#5b8fd6"/>
<circle cx="498.60" cy="389.30" r="1.6" fill="#5b8fd6"/>
<circle cx="501.10" cy="389.30" r="1.6" fill="#5b8fd6"/>
<circle cx="503.60" cy="389.30" r="1.6" fill="#5b8fd6"/>
<circle cx="506.10" cy="389.30" r="1.6" fill="#5b8fd6"/>
<circle cx="508.60" cy="389.30" r="1.6" fill="#5b8fd6"/>
<circle cx="501.10" cy="391.20" r="1.6" fill="#5b8fd6"/>
<circle cx="503.60" cy="391.20" r="1.6" fill="#5b8fd6"/>
<circle cx="506.10" cy="391.20" r="1.6" fill="#5b8fd6"/>
<circle cx="498.60" cy="393.10" r="1.6" fill="#5b8fd6"/>
<circle cx="501.10" cy="393.10" r="1.6" fill="#5b8fd6"/>
<circle cx="503.60" cy="393.10" r="1.6" fill="#5b8fd6"/>
<circle cx="506.10" cy="393.10" r="1.6" fill="#5b8fd6"/>
<circle cx="508.60" cy="393.10" r="1.6" fill="#5b8fd6"/>
<circle cx="501.10" cy="396.20" r="1.6" fill="#5b8fd6"/>
<circle cx="503.60" cy="396.20" r="1.6" fill="#5b8fd6"/>
<circle cx="506.10" cy="396.20" r="1.6" fill="#5b8fd6"/>
<circle cx="535.80" cy="303.50" r="1.45" fill="#22b04a"/>
<circle cx="535.80" cy="308.90" r="1.45" fill="#22b04a"/>
<circle cx="535.80" cy="330.60" r="1.45" fill="#22b04a"/>
<circle cx="533.05" cy="336.90" r="1.45" fill="#22b04a"/>
<circle cx="535.80" cy="336.90" r="1.45" fill="#22b04a"/>
<circle cx="538.55" cy="336.90" r="1.45" fill="#22b04a"/>
<circle cx="535.80" cy="340.10" r="1.45" fill="#22b04a"/>
<circle cx="530.30" cy="343.60" r="1.45" fill="#22b04a"/>
<circle cx="533.05" cy="343.60" r="1.45" fill="#22b04a"/>
<circle cx="535.80" cy="343.60" r="1.45" fill="#22b04a"/>
<circle cx="538.55" cy="343.60" r="1.45" fill="#22b04a"/>
<circle cx="541.30" cy="343.60" r="1.45" fill="#22b04a"/>
<circle cx="535.80" cy="347.00" r="1.45" fill="#22b04a"/>
<circle cx="534.42" cy="350.20" r="1.45" fill="#22b04a"/>
<circle cx="537.17" cy="350.20" r="1.45" fill="#22b04a"/>
<circle cx="534.42" cy="353.60" r="1.45" fill="#22b04a"/>
<circle cx="537.17" cy="353.60" r="1.45" fill="#22b04a"/>
<circle cx="535.80" cy="356.70" r="1.45" fill="#22b04a"/>
<circle cx="528.92" cy="360.20" r="1.45" fill="#22b04a"/>
<circle cx="531.67" cy="360.20" r="1.45" fill="#22b04a"/>
<circle cx="534.42" cy="360.20" r="1.45" fill="#22b04a"/>
<circle cx="537.17" cy="360.20" r="1.45" fill="#22b04a"/>
<circle cx="539.92" cy="360.20" r="1.45" fill="#22b04a"/>
<circle cx="542.67" cy="360.20" r="1.45" fill="#22b04a"/>
<circle cx="531.67" cy="363.40" r="1.45" fill="#22b04a"/>
<circle cx="534.42" cy="363.40" r="1.45" fill="#22b04a"/>
<circle cx="537.17" cy="363.40" r="1.45" fill="#22b04a"/>
<circle cx="539.92" cy="363.40" r="1.45" fill="#22b04a"/>
<circle cx="531.67" cy="366.90" r="1.45" fill="#22b04a"/>
<circle cx="534.42" cy="366.90" r="1.45" fill="#22b04a"/>
<circle cx="537.17" cy="366.90" r="1.45" fill="#22b04a"/>
<circle cx="539.92" cy="366.90" r="1.45" fill="#22b04a"/>
<circle cx="528.92" cy="370.10" r="1.45" fill="#22b04a"/>
<circle cx="531.67" cy="370.10" r="1.45" fill="#22b04a"/>
<circle cx="534.42" cy="370.10" r="1.45" fill="#22b04a"/>
<circle cx="537.17" cy="370.10" r="1.45" fill="#22b04a"/>
<circle cx="539.92" cy="370.10" r="1.45" fill="#22b04a"/>
<circle cx="542.67" cy="370.10" r="1.45" fill="#22b04a"/>
<circle cx="530.30" cy="373.50" r="1.45" fill="#22b04a"/>
<circle cx="533.05" cy="373.50" r="1.45" fill="#22b04a"/>
<circle cx="535.80" cy="373.50" r="1.45" fill="#22b04a"/>
<circle cx="538.55" cy="373.50" r="1.45" fill="#22b04a"/>
<circle cx="541.30" cy="373.50" r="1.45" fill="#22b04a"/>
<circle cx="530.30" cy="376.60" r="1.45" fill="#22b04a"/>
<circle cx="533.05" cy="376.60" r="1.45" fill="#22b04a"/>
<circle cx="535.80" cy="376.60" r="1.45" fill="#22b04a"/>
<circle cx="538.55" cy="376.60" r="1.45" fill="#22b04a"/>
<circle cx="541.30" cy="376.60" r="1.45" fill="#22b04a"/>
<circle cx="533.05" cy="380.10" r="1.45" fill="#22b04a"/>
<circle cx="535.80" cy="380.10" r="1.45" fill="#22b04a"/>
<circle cx="538.55" cy="380.10" r="1.45" fill="#22b04a"/>
<circle cx="531.67" cy="383.20" r="1.45" fill="#22b04a"/>
<circle cx="534.42" cy="383.20" r="1.45" fill="#22b04a"/>
<circle cx="537.17" cy="383.20" r="1.45" fill="#22b04a"/>
<circle cx="539.92" cy="383.20" r="1.45" fill="#22b04a"/>
<circle cx="533.05" cy="386.40" r="1.45" fill="#22b04a"/>
<circle cx="535.80" cy="386.40" r="1.45" fill="#22b04a"/>
<circle cx="538.55" cy="386.40" r="1.45" fill="#22b04a"/>
<circle cx="533.05" cy="389.90" r="1.45" fill="#22b04a"/>
<circle cx="535.80" cy="389.90" r="1.45" fill="#22b04a"/>
<circle cx="538.55" cy="389.90" r="1.45" fill="#22b04a"/>
<circle cx="533.05" cy="393.10" r="1.45" fill="#22b04a"/>
<circle cx="535.80" cy="393.10" r="1.45" fill="#22b04a"/>
<circle cx="538.55" cy="393.10" r="1.45" fill="#22b04a"/>
<circle cx="535.80" cy="396.60" r="1.45" fill="#22b04a"/>
<line x1="494.40" y1="375.70" x2="512.80" y2="375.70" stroke="#3c5fb8" stroke-width="2.2" />
<line x1="526.30" y1="364.00" x2="545.00" y2="364.00" stroke="#2a6a3a" stroke-width="2.0" />
<line x1="484.50" y1="298.80" x2="484.50" y2="397.80" stroke="#b0b0b0" stroke-width="1.7" />
<line x1="481.20" y1="298.80" x2="484.50" y2="298.80" stroke="#b0b0b0" stroke-width="1.7" />
<text x="476.60" y="302.50" font-size="10.5" text-anchor="end" fill="#444" font-weight="normal" >600</text>
<line x1="481.20" y1="331.70" x2="484.50" y2="331.70" stroke="#b0b0b0" stroke-width="1.7" />
<text x="476.60" y="335.40" font-size="10.5" text-anchor="end" fill="#444" font-weight="normal" >400</text>
<line x1="481.20" y1="365.10" x2="484.50" y2="365.10" stroke="#b0b0b0" stroke-width="1.7" />
<text x="476.60" y="368.80" font-size="10.5" text-anchor="end" fill="#444" font-weight="normal" >200</text>
<line x1="481.20" y1="397.80" x2="484.50" y2="397.80" stroke="#b0b0b0" stroke-width="1.7" />
<text x="476.60" y="401.50" font-size="10.5" text-anchor="end" fill="#444" font-weight="normal" >0</text>
<line x1="484.50" y1="397.80" x2="555.10" y2="397.80" stroke="#b0b0b0" stroke-width="1.7" />
<line x1="503.40" y1="397.80" x2="503.40" y2="400.80" stroke="#b0b0b0" stroke-width="1.7" />
<line x1="536.60" y1="397.80" x2="536.60" y2="400.80" stroke="#b0b0b0" stroke-width="1.7" />
<line x1="502.00" y1="293.30" x2="541.60" y2="293.30" stroke="#666" stroke-width="0.9" />
<polygon points="519.68,284.90 520.29,286.50 522.01,286.59 520.67,287.67 521.12,289.33 519.68,288.40 518.23,289.33 518.68,287.67 517.34,286.59 519.06,286.50" fill="#333"/>
<polygon points="525.52,284.90 526.14,286.50 527.86,286.59 526.52,287.67 526.97,289.33 525.52,288.40 524.08,289.33 524.53,287.67 523.19,286.59 524.91,286.50" fill="#333"/>
<text x="0.00" y="0.00" font-size="11" text-anchor="middle" fill="#444" font-weight="normal" transform="translate(449.6,345.7) rotate(-90)">Rheobase (pA)</text>
<text x="506.00" y="410.70" font-size="11" text-anchor="middle" fill="#444" font-weight="normal" >High</text>
<text x="506.00" y="422.40" font-size="11" text-anchor="middle" fill="#444" font-weight="normal" >grade</text>
<text x="540.70" y="410.70" font-size="11" text-anchor="middle" fill="#444" font-weight="normal" >Low</text>
<text x="540.70" y="422.40" font-size="11" text-anchor="middle" fill="#444" font-weight="normal" >grade</text>
<circle cx="635.20" cy="310.20" r="1.5" fill="#5b8fd6"/>
<circle cx="635.20" cy="316.50" r="1.5" fill="#5b8fd6"/>
<circle cx="635.20" cy="324.40" r="1.5" fill="#5b8fd6"/>
<circle cx="635.20" cy="325.60" r="1.5" fill="#5b8fd6"/>
<circle cx="635.20" cy="326.60" r="1.5" fill="#5b8fd6"/>
<circle cx="635.20" cy="330.10" r="1.5" fill="#5b8fd6"/>
<circle cx="635.20" cy="334.60" r="1.5" fill="#5b8fd6"/>
<circle cx="635.20" cy="338.70" r="1.5" fill="#5b8fd6"/>
<circle cx="635.20" cy="340.30" r="1.5" fill="#5b8fd6"/>
<circle cx="635.20" cy="342.50" r="1.5" fill="#5b8fd6"/>
<circle cx="635.20" cy="344.10" r="1.5" fill="#5b8fd6"/>
<circle cx="635.20" cy="346.90" r="1.5" fill="#5b8fd6"/>
<circle cx="635.20" cy="348.00" r="1.5" fill="#5b8fd6"/>
<circle cx="635.20" cy="350.70" r="1.5" fill="#5b8fd6"/>
<circle cx="635.20" cy="352.70" r="1.5" fill="#5b8fd6"/>
<circle cx="635.20" cy="354.30" r="1.5" fill="#5b8fd6"/>
<circle cx="635.20" cy="360.10" r="1.5" fill="#5b8fd6"/>
<circle cx="635.20" cy="361.20" r="1.5" fill="#5b8fd6"/>
<circle cx="635.20" cy="362.90" r="1.5" fill="#5b8fd6"/>
<circle cx="633.95" cy="364.50" r="1.5" fill="#5b8fd6"/>
<circle cx="636.45" cy="364.50" r="1.5" fill="#5b8fd6"/>
<circle cx="635.20" cy="366.60" r="1.5" fill="#5b8fd6"/>
<circle cx="633.95" cy="368.80" r="1.5" fill="#5b8fd6"/>
<circle cx="636.45" cy="368.80" r="1.5" fill="#5b8fd6"/>
<circle cx="633.95" cy="370.80" r="1.5" fill="#5b8fd6"/>
<circle cx="636.45" cy="370.80" r="1.5" fill="#5b8fd6"/>
<circle cx="632.70" cy="372.40" r="1.5" fill="#5b8fd6"/>
<circle cx="635.20" cy="372.40" r="1.5" fill="#5b8fd6"/>
<circle cx="637.70" cy="372.40" r="1.5" fill="#5b8fd6"/>
<circle cx="632.70" cy="374.20" r="1.5" fill="#5b8fd6"/>
<circle cx="635.20" cy="374.20" r="1.5" fill="#5b8fd6"/>
<circle cx="637.70" cy="374.20" r="1.5" fill="#5b8fd6"/>
<circle cx="631.45" cy="376.10" r="1.5" fill="#5b8fd6"/>
<circle cx="633.95" cy="376.10" r="1.5" fill="#5b8fd6"/>
<circle cx="636.45" cy="376.10" r="1.5" fill="#5b8fd6"/>
<circle cx="638.95" cy="376.10" r="1.5" fill="#5b8fd6"/>
<circle cx="630.20" cy="378.00" r="1.5" fill="#5b8fd6"/>
<circle cx="632.70" cy="378.00" r="1.5" fill="#5b8fd6"/>
<circle cx="635.20" cy="378.00" r="1.5" fill="#5b8fd6"/>
<circle cx="637.70" cy="378.00" r="1.5" fill="#5b8fd6"/>
<circle cx="640.20" cy="378.00" r="1.5" fill="#5b8fd6"/>
<circle cx="630.20" cy="379.80" r="1.5" fill="#5b8fd6"/>
<circle cx="632.70" cy="379.80" r="1.5" fill="#5b8fd6"/>
<circle cx="635.20" cy="379.80" r="1.5" fill="#5b8fd6"/>
<circle cx="637.70" cy="379.80" r="1.5" fill="#5b8fd6"/>
<circle cx="640.20" cy="379.80" r="1.5" fill="#5b8fd6"/>
<circle cx="628.95" cy="381.50" r="1.5" fill="#5b8fd6"/>
<circle cx="631.45" cy="381.50" r="1.5" fill="#5b8fd6"/>
<circle cx="633.95" cy="381.50" r="1.5" fill="#5b8fd6"/>
<circle cx="636.45" cy="381.50" r="1.5" fill="#5b8fd6"/>
<circle cx="638.95" cy="381.50" r="1.5" fill="#5b8fd6"/>
<circle cx="641.45" cy="381.50" r="1.5" fill="#5b8fd6"/>
<circle cx="627.70" cy="383.30" r="1.5" fill="#5b8fd6"/>
<circle cx="630.20" cy="383.30" r="1.5" fill="#5b8fd6"/>
<circle cx="632.70" cy="383.30" r="1.5" fill="#5b8fd6"/>
<circle cx="635.20" cy="383.30" r="1.5" fill="#5b8fd6"/>
<circle cx="637.70" cy="383.30" r="1.5" fill="#5b8fd6"/>
<circle cx="640.20" cy="383.30" r="1.5" fill="#5b8fd6"/>
<circle cx="642.70" cy="383.30" r="1.5" fill="#5b8fd6"/>
<circle cx="627.70" cy="385.10" r="1.5" fill="#5b8fd6"/>
<circle cx="630.20" cy="385.10" r="1.5" fill="#5b8fd6"/>
<circle cx="632.70" cy="385.10" r="1.5" fill="#5b8fd6"/>
<circle cx="635.20" cy="385.10" r="1.5" fill="#5b8fd6"/>
<circle cx="637.70" cy="385.10" r="1.5" fill="#5b8fd6"/>
<circle cx="640.20" cy="385.10" r="1.5" fill="#5b8fd6"/>
<circle cx="642.70" cy="385.10" r="1.5" fill="#5b8fd6"/>
<circle cx="628.95" cy="386.90" r="1.5" fill="#5b8fd6"/>
<circle cx="631.45" cy="386.90" r="1.5" fill="#5b8fd6"/>
<circle cx="633.95" cy="386.90" r="1.5" fill="#5b8fd6"/>
<circle cx="636.45" cy="386.90" r="1.5" fill="#5b8fd6"/>
<circle cx="638.95" cy="386.90" r="1.5" fill="#5b8fd6"/>
<circle cx="641.45" cy="386.90" r="1.5" fill="#5b8fd6"/>
<circle cx="627.70" cy="388.60" r="1.5" fill="#5b8fd6"/>
<circle cx="630.20" cy="388.60" r="1.5" fill="#5b8fd6"/>
<circle cx="632.70" cy="388.60" r="1.5" fill="#5b8fd6"/>
<circle cx="635.20" cy="388.60" r="1.5" fill="#5b8fd6"/>
<circle cx="637.70" cy="388.60" r="1.5" fill="#5b8fd6"/>
<circle cx="640.20" cy="388.60" r="1.5" fill="#5b8fd6"/>
<circle cx="642.70" cy="388.60" r="1.5" fill="#5b8fd6"/>
<circle cx="630.20" cy="390.30" r="1.5" fill="#5b8fd6"/>
<circle cx="632.70" cy="390.30" r="1.5" fill="#5b8fd6"/>
<circle cx="635.20" cy="390.30" r="1.5" fill="#5b8fd6"/>
<circle cx="637.70" cy="390.30" r="1.5" fill="#5b8fd6"/>
<circle cx="640.20" cy="390.30" r="1.5" fill="#5b8fd6"/>
<circle cx="632.70" cy="392.00" r="1.5" fill="#5b8fd6"/>
<circle cx="635.20" cy="392.00" r="1.5" fill="#5b8fd6"/>
<circle cx="637.70" cy="392.00" r="1.5" fill="#5b8fd6"/>
<circle cx="665.50" cy="309.50" r="1.45" fill="#22b04a"/>
<circle cx="665.50" cy="316.50" r="1.45" fill="#22b04a"/>
<circle cx="665.50" cy="321.10" r="1.45" fill="#22b04a"/>
<circle cx="665.50" cy="325.00" r="1.45" fill="#22b04a"/>
<circle cx="662.70" cy="328.80" r="1.45" fill="#22b04a"/>
<circle cx="668.70" cy="328.80" r="1.45" fill="#22b04a"/>
<circle cx="663.70" cy="331.30" r="1.45" fill="#22b04a"/>
<circle cx="667.70" cy="333.70" r="1.45" fill="#22b04a"/>
<circle cx="662.20" cy="335.40" r="1.45" fill="#22b04a"/>
<circle cx="666.20" cy="337.80" r="1.45" fill="#22b04a"/>
<circle cx="664.20" cy="340.30" r="1.45" fill="#22b04a"/>
<circle cx="667.70" cy="341.10" r="1.45" fill="#22b04a"/>
<circle cx="665.50" cy="346.10" r="1.45" fill="#22b04a"/>
<circle cx="665.50" cy="350.20" r="1.45" fill="#22b04a"/>
<circle cx="665.50" cy="353.50" r="1.45" fill="#22b04a"/>
<circle cx="665.50" cy="358.50" r="1.45" fill="#22b04a"/>
<circle cx="665.50" cy="361.49" r="1.5" fill="#22b04a"/>
<circle cx="668.35" cy="361.78" r="1.5" fill="#22b04a"/>
<circle cx="665.50" cy="364.91" r="1.5" fill="#22b04a"/>
<circle cx="668.34" cy="365.26" r="1.5" fill="#22b04a"/>
<circle cx="664.06" cy="367.38" r="1.5" fill="#22b04a"/>
<circle cx="666.89" cy="367.81" r="1.5" fill="#22b04a"/>
<circle cx="661.35" cy="368.27" r="1.5" fill="#22b04a"/>
<circle cx="669.32" cy="369.32" r="1.5" fill="#22b04a"/>
<circle cx="665.50" cy="370.46" r="1.5" fill="#22b04a"/>
<circle cx="662.71" cy="371.07" r="1.5" fill="#22b04a"/>
<circle cx="667.64" cy="372.36" r="1.5" fill="#22b04a"/>
<circle cx="670.44" cy="372.96" r="1.5" fill="#22b04a"/>
<circle cx="665.30" cy="373.99" r="1.5" fill="#22b04a"/>
<circle cx="662.49" cy="374.53" r="1.5" fill="#22b04a"/>
<circle cx="659.63" cy="374.71" r="1.5" fill="#22b04a"/>
<circle cx="667.30" cy="376.03" r="1.5" fill="#22b04a"/>
<circle cx="670.11" cy="376.52" r="1.5" fill="#22b04a"/>
<circle cx="664.77" cy="377.38" r="1.5" fill="#22b04a"/>
<circle cx="667.14" cy="378.98" r="1.5" fill="#22b04a"/>
<circle cx="662.63" cy="379.27" r="1.5" fill="#22b04a"/>
<circle cx="669.60" cy="380.44" r="1.5" fill="#22b04a"/>
<circle cx="660.22" cy="380.80" r="1.5" fill="#22b04a"/>
<circle cx="665.50" cy="381.53" r="1.5" fill="#22b04a"/>
<circle cx="662.88" cy="382.68" r="1.5" fill="#22b04a"/>
<circle cx="667.88" cy="383.11" r="1.5" fill="#22b04a"/>
<circle cx="670.74" cy="383.30" r="1.5" fill="#22b04a"/>
<circle cx="659.70" cy="383.60" r="1.5" fill="#22b04a"/>
<circle cx="673.55" cy="383.80" r="1.5" fill="#22b04a"/>
<circle cx="656.85" cy="383.82" r="1.5" fill="#22b04a"/>
<circle cx="665.50" cy="385.39" r="1.5" fill="#22b04a"/>
<circle cx="668.21" cy="386.29" r="1.5" fill="#22b04a"/>
<circle cx="663.81" cy="387.69" r="1.5" fill="#22b04a"/>
<circle cx="660.96" cy="387.91" r="1.5" fill="#22b04a"/>
<circle cx="670.54" cy="387.96" r="1.5" fill="#22b04a"/>
<circle cx="658.16" cy="388.49" r="1.5" fill="#22b04a"/>
<circle cx="666.18" cy="389.29" r="1.5" fill="#22b04a"/>
<circle cx="672.86" cy="389.63" r="1.5" fill="#22b04a"/>
<line x1="626.30" y1="374.00" x2="643.90" y2="374.00" stroke="#3c5fb8" stroke-width="2.2" />
<line x1="656.50" y1="365.00" x2="674.30" y2="365.00" stroke="#2a6a3a" stroke-width="2.0" />
<line x1="665.50" y1="361.50" x2="665.50" y2="365.00" stroke="#2a6a3a" stroke-width="0.8" />
<line x1="663.00" y1="361.50" x2="668.00" y2="361.50" stroke="#2a6a3a" stroke-width="0.8" />
<line x1="617.60" y1="298.60" x2="617.60" y2="396.80" stroke="#b4b4b4" stroke-width="1.8" />
<line x1="614.30" y1="298.60" x2="617.60" y2="298.60" stroke="#b4b4b4" stroke-width="1.8" />
<text x="607.90" y="302.30" font-size="10.5" text-anchor="end" fill="#444" font-weight="normal" >150</text>
<line x1="614.30" y1="331.50" x2="617.60" y2="331.50" stroke="#b4b4b4" stroke-width="1.8" />
<text x="607.90" y="335.20" font-size="10.5" text-anchor="end" fill="#444" font-weight="normal" >100</text>
<line x1="614.30" y1="364.20" x2="617.60" y2="364.20" stroke="#b4b4b4" stroke-width="1.8" />
<text x="607.90" y="367.90" font-size="10.5" text-anchor="end" fill="#444" font-weight="normal" >50</text>
<line x1="614.30" y1="396.80" x2="617.60" y2="396.80" stroke="#b4b4b4" stroke-width="1.8" />
<text x="607.90" y="400.50" font-size="10.5" text-anchor="end" fill="#444" font-weight="normal" >0</text>
<line x1="617.60" y1="396.80" x2="683.70" y2="396.80" stroke="#b4b4b4" stroke-width="1.8" />
<line x1="635.20" y1="396.80" x2="635.20" y2="399.80" stroke="#b4b4b4" stroke-width="1.8" />
<line x1="666.00" y1="396.80" x2="666.00" y2="399.80" stroke="#b4b4b4" stroke-width="1.8" />
<line x1="632.00" y1="293.20" x2="673.00" y2="293.20" stroke="#666" stroke-width="0.9" />
<polygon points="648.98,284.00 649.59,285.60 651.31,285.69 649.97,286.77 650.42,288.43 648.98,287.50 647.53,288.43 647.98,286.77 646.64,285.69 648.36,285.60" fill="#333"/>
<polygon points="654.82,284.00 655.44,285.60 657.16,285.69 655.82,286.77 656.27,288.43 654.82,287.50 653.38,288.43 653.83,286.77 652.49,285.69 654.21,285.60" fill="#333"/>
<text x="0.00" y="0.00" font-size="11" text-anchor="middle" fill="#444" font-weight="normal" transform="translate(583.6,347.2) rotate(-90)">F1 (Hz)</text>
<text x="636.10" y="410.70" font-size="11" text-anchor="middle" fill="#444" font-weight="normal" >High</text>
<text x="636.10" y="422.40" font-size="11" text-anchor="middle" fill="#444" font-weight="normal" >grade</text>
<text x="670.80" y="410.70" font-size="11" text-anchor="middle" fill="#444" font-weight="normal" >Low</text>
<text x="670.80" y="422.40" font-size="11" text-anchor="middle" fill="#444" font-weight="normal" >grade</text>
<circle cx="255.60" cy="484.87" r="1.5" fill="#5b8fd6"/>
<circle cx="255.60" cy="508.72" r="1.5" fill="#5b8fd6"/>
<circle cx="255.60" cy="511.37" r="1.5" fill="#5b8fd6"/>
<circle cx="257.76" cy="511.53" r="1.5" fill="#5b8fd6"/>
<circle cx="253.49" cy="511.87" r="1.5" fill="#5b8fd6"/>
<circle cx="259.84" cy="512.16" r="1.5" fill="#5b8fd6"/>
<circle cx="251.36" cy="512.29" r="1.5" fill="#5b8fd6"/>
<circle cx="255.60" cy="513.84" r="1.5" fill="#5b8fd6"/>
<circle cx="257.76" cy="514.02" r="1.5" fill="#5b8fd6"/>
<circle cx="256.25" cy="515.91" r="1.5" fill="#5b8fd6"/>
<circle cx="254.18" cy="516.56" r="1.5" fill="#5b8fd6"/>
<circle cx="257.97" cy="517.23" r="1.5" fill="#5b8fd6"/>
<circle cx="255.60" cy="518.84" r="1.5" fill="#5b8fd6"/>
<circle cx="257.64" cy="519.59" r="1.5" fill="#5b8fd6"/>
<circle cx="255.91" cy="520.98" r="1.5" fill="#5b8fd6"/>
<circle cx="253.78" cy="521.36" r="1.5" fill="#5b8fd6"/>
<circle cx="257.77" cy="522.10" r="1.5" fill="#5b8fd6"/>
<circle cx="252.02" cy="522.63" r="1.5" fill="#5b8fd6"/>
<circle cx="255.60" cy="523.19" r="1.5" fill="#5b8fd6"/>
<circle cx="259.38" cy="523.56" r="1.5" fill="#5b8fd6"/>
<circle cx="250.38" cy="524.05" r="1.5" fill="#5b8fd6"/>
<circle cx="257.12" cy="524.74" r="1.5" fill="#5b8fd6"/>
<circle cx="254.09" cy="524.75" r="1.5" fill="#5b8fd6"/>
<circle cx="255.60" cy="526.35" r="1.5" fill="#5b8fd6"/>
<circle cx="258.29" cy="526.56" r="1.5" fill="#5b8fd6"/>
<circle cx="253.49" cy="526.85" r="1.5" fill="#5b8fd6"/>
<circle cx="251.32" cy="526.92" r="1.5" fill="#5b8fd6"/>
<circle cx="260.42" cy="527.00" r="1.5" fill="#5b8fd6"/>
<circle cx="249.18" cy="527.30" r="1.5" fill="#5b8fd6"/>
<circle cx="262.47" cy="527.71" r="1.5" fill="#5b8fd6"/>
<circle cx="256.77" cy="528.17" r="1.5" fill="#5b8fd6"/>
<circle cx="258.91" cy="528.63" r="1.5" fill="#5b8fd6"/>
<circle cx="255.08" cy="529.53" r="1.5" fill="#5b8fd6"/>
<circle cx="252.93" cy="529.86" r="1.5" fill="#5b8fd6"/>
<circle cx="250.76" cy="529.88" r="1.5" fill="#5b8fd6"/>
<circle cx="256.87" cy="530.76" r="1.5" fill="#5b8fd6"/>
<circle cx="259.00" cy="531.15" r="1.5" fill="#5b8fd6"/>
<circle cx="261.17" cy="531.17" r="1.5" fill="#5b8fd6"/>
<circle cx="249.05" cy="531.20" r="1.5" fill="#5b8fd6"/>
<circle cx="263.33" cy="531.38" r="1.5" fill="#5b8fd6"/>
<circle cx="246.90" cy="531.54" r="1.5" fill="#5b8fd6"/>
<circle cx="255.51" cy="532.45" r="1.5" fill="#5b8fd6"/>
<circle cx="257.63" cy="532.95" r="1.5" fill="#5b8fd6"/>
<circle cx="253.41" cy="533.01" r="1.5" fill="#5b8fd6"/>
<circle cx="251.24" cy="533.05" r="1.5" fill="#5b8fd6"/>
<circle cx="259.78" cy="533.19" r="1.5" fill="#5b8fd6"/>
<circle cx="261.89" cy="533.70" r="1.5" fill="#5b8fd6"/>
<circle cx="249.43" cy="534.25" r="1.5" fill="#5b8fd6"/>
<circle cx="247.26" cy="534.25" r="1.5" fill="#5b8fd6"/>
<circle cx="255.60" cy="534.84" r="1.5" fill="#5b8fd6"/>
<circle cx="257.66" cy="535.52" r="1.5" fill="#5b8fd6"/>
<circle cx="253.56" cy="535.58" r="1.5" fill="#5b8fd6"/>
<circle cx="251.45" cy="536.09" r="1.5" fill="#5b8fd6"/>
<circle cx="259.65" cy="536.39" r="1.5" fill="#5b8fd6"/>
<circle cx="261.82" cy="536.40" r="1.5" fill="#5b8fd6"/>
<circle cx="249.44" cy="536.90" r="1.5" fill="#5b8fd6"/>
<circle cx="255.60" cy="537.73" r="1.5" fill="#5b8fd6"/>
<circle cx="257.74" cy="538.07" r="1.5" fill="#5b8fd6"/>
<circle cx="253.49" cy="538.23" r="1.5" fill="#5b8fd6"/>
<circle cx="251.32" cy="538.26" r="1.5" fill="#5b8fd6"/>
<circle cx="259.44" cy="539.42" r="1.5" fill="#5b8fd6"/>
<circle cx="255.60" cy="540.09" r="1.5" fill="#5b8fd6"/>
<circle cx="252.61" cy="540.21" r="1.5" fill="#5b8fd6"/>
<circle cx="257.57" cy="540.99" r="1.5" fill="#5b8fd6"/>
<circle cx="250.72" cy="541.27" r="1.5" fill="#5b8fd6"/>
<circle cx="255.60" cy="542.27" r="1.5" fill="#5b8fd6"/>
<circle cx="253.50" cy="542.82" r="1.5" fill="#5b8fd6"/>
<circle cx="257.31" cy="543.61" r="1.5" fill="#5b8fd6"/>
<circle cx="259.42" cy="544.12" r="1.5" fill="#5b8fd6"/>
<circle cx="255.39" cy="544.62" r="1.5" fill="#5b8fd6"/>
<circle cx="253.38" cy="545.43" r="1.5" fill="#5b8fd6"/>
<circle cx="251.21" cy="545.50" r="1.5" fill="#5b8fd6"/>
<circle cx="256.44" cy="546.52" r="1.5" fill="#5b8fd6"/>
<circle cx="258.60" cy="546.77" r="1.5" fill="#5b8fd6"/>
<circle cx="254.68" cy="547.79" r="1.5" fill="#5b8fd6"/>
<circle cx="257.19" cy="548.54" r="1.5" fill="#5b8fd6"/>
<circle cx="253.03" cy="549.19" r="1.5" fill="#5b8fd6"/>
<circle cx="255.60" cy="550.51" r="1.5" fill="#5b8fd6"/>
<circle cx="257.72" cy="550.99" r="1.5" fill="#5b8fd6"/>
<circle cx="254.72" cy="552.49" r="1.5" fill="#5b8fd6"/>
<circle cx="252.58" cy="552.83" r="1.5" fill="#5b8fd6"/>
<circle cx="256.62" cy="553.53" r="1.5" fill="#5b8fd6"/>
<circle cx="258.67" cy="554.26" r="1.5" fill="#5b8fd6"/>
<circle cx="255.60" cy="555.63" r="1.5" fill="#5b8fd6"/>
<circle cx="290.30" cy="501.73" r="1.55" fill="#22b04a"/>
<circle cx="290.30" cy="506.31" r="1.55" fill="#22b04a"/>
<circle cx="292.92" cy="506.69" r="1.55" fill="#22b04a"/>
<circle cx="290.30" cy="510.05" r="1.55" fill="#22b04a"/>
<circle cx="292.92" cy="510.40" r="1.55" fill="#22b04a"/>
<circle cx="288.09" cy="511.49" r="1.55" fill="#22b04a"/>
<circle cx="285.44" cy="511.57" r="1.55" fill="#22b04a"/>
<circle cx="290.41" cy="512.74" r="1.55" fill="#22b04a"/>
<circle cx="292.95" cy="513.50" r="1.55" fill="#22b04a"/>
<circle cx="287.13" cy="513.95" r="1.55" fill="#22b04a"/>
<circle cx="295.37" cy="514.55" r="1.55" fill="#22b04a"/>
<circle cx="290.30" cy="515.55" r="1.55" fill="#22b04a"/>
<circle cx="285.61" cy="516.10" r="1.55" fill="#22b04a"/>
<circle cx="292.87" cy="516.17" r="1.55" fill="#22b04a"/>
<circle cx="288.60" cy="517.57" r="1.55" fill="#22b04a"/>
<circle cx="290.94" cy="518.80" r="1.55" fill="#22b04a"/>
<circle cx="293.57" cy="519.10" r="1.55" fill="#22b04a"/>
<circle cx="287.36" cy="519.90" r="1.55" fill="#22b04a"/>
<circle cx="284.73" cy="520.21" r="1.55" fill="#22b04a"/>
<circle cx="295.71" cy="520.65" r="1.55" fill="#22b04a"/>
<circle cx="298.35" cy="520.81" r="1.55" fill="#22b04a"/>
<circle cx="290.30" cy="521.88" r="1.55" fill="#22b04a"/>
<circle cx="292.94" cy="522.08" r="1.55" fill="#22b04a"/>
<circle cx="288.05" cy="523.27" r="1.55" fill="#22b04a"/>
<circle cx="294.68" cy="524.07" r="1.55" fill="#22b04a"/>
<circle cx="291.43" cy="524.26" r="1.55" fill="#22b04a"/>
<circle cx="285.61" cy="524.29" r="1.55" fill="#22b04a"/>
<circle cx="296.92" cy="525.47" r="1.55" fill="#22b04a"/>
<circle cx="289.20" cy="525.67" r="1.55" fill="#22b04a"/>
<circle cx="292.99" cy="526.39" r="1.55" fill="#22b04a"/>
<circle cx="284.16" cy="526.49" r="1.55" fill="#22b04a"/>
<circle cx="281.52" cy="526.62" r="1.55" fill="#22b04a"/>
<circle cx="290.61" cy="527.91" r="1.55" fill="#22b04a"/>
<circle cx="288.00" cy="528.37" r="1.55" fill="#22b04a"/>
<circle cx="293.93" cy="528.86" r="1.55" fill="#22b04a"/>
<circle cx="285.45" cy="529.05" r="1.55" fill="#22b04a"/>
<circle cx="290.30" cy="530.99" r="1.55" fill="#22b04a"/>
<circle cx="287.66" cy="531.16" r="1.55" fill="#22b04a"/>
<circle cx="292.80" cy="531.87" r="1.55" fill="#22b04a"/>
<circle cx="295.44" cy="532.03" r="1.55" fill="#22b04a"/>
<circle cx="285.45" cy="532.60" r="1.55" fill="#22b04a"/>
<circle cx="282.90" cy="533.31" r="1.55" fill="#22b04a"/>
<circle cx="290.61" cy="533.61" r="1.55" fill="#22b04a"/>
<circle cx="288.77" cy="535.51" r="1.55" fill="#22b04a"/>
<circle cx="291.82" cy="535.95" r="1.55" fill="#22b04a"/>
<circle cx="286.26" cy="536.36" r="1.55" fill="#22b04a"/>
<circle cx="293.86" cy="537.63" r="1.55" fill="#22b04a"/>
<circle cx="290.30" cy="538.71" r="1.55" fill="#22b04a"/>
<circle cx="291.99" cy="540.75" r="1.55" fill="#22b04a"/>
<circle cx="288.93" cy="540.97" r="1.55" fill="#22b04a"/>
<circle cx="290.30" cy="544.64" r="1.55" fill="#22b04a"/>
<circle cx="292.68" cy="545.79" r="1.55" fill="#22b04a"/>
<circle cx="290.30" cy="549.82" r="1.55" fill="#22b04a"/>
<line x1="247.10" y1="531.70" x2="264.40" y2="531.70" stroke="#1e4f8a" stroke-width="2.2" />
<line x1="282.20" y1="525.30" x2="299.20" y2="525.30" stroke="#1e5c44" stroke-width="2.0" />
<line x1="240.90" y1="469.70" x2="240.90" y2="566.40" stroke="#c0c0c0" stroke-width="1.9" />
<line x1="237.60" y1="469.70" x2="240.90" y2="469.70" stroke="#c0c0c0" stroke-width="1.9" />
<text x="232.40" y="473.40" font-size="10.5" text-anchor="end" fill="#444" font-weight="normal" >500</text>
<line x1="237.60" y1="494.10" x2="240.90" y2="494.10" stroke="#c0c0c0" stroke-width="1.9" />
<text x="232.40" y="497.80" font-size="10.5" text-anchor="end" fill="#444" font-weight="normal" >400</text>
<line x1="237.60" y1="517.90" x2="240.90" y2="517.90" stroke="#c0c0c0" stroke-width="1.9" />
<text x="232.40" y="521.60" font-size="10.5" text-anchor="end" fill="#444" font-weight="normal" >300</text>
<line x1="237.60" y1="542.30" x2="240.90" y2="542.30" stroke="#c0c0c0" stroke-width="1.9" />
<text x="232.40" y="546.00" font-size="10.5" text-anchor="end" fill="#444" font-weight="normal" >200</text>
<line x1="237.60" y1="566.40" x2="240.90" y2="566.40" stroke="#c0c0c0" stroke-width="1.9" />
<text x="232.40" y="570.10" font-size="10.5" text-anchor="end" fill="#444" font-weight="normal" >100</text>
<line x1="240.90" y1="566.40" x2="307.10" y2="566.40" stroke="#c0c0c0" stroke-width="1.9" />
<line x1="256.00" y1="566.40" x2="256.00" y2="569.40" stroke="#c0c0c0" stroke-width="1.9" />
<line x1="293.20" y1="566.40" x2="293.20" y2="569.40" stroke="#c0c0c0" stroke-width="1.9" />
<line x1="255.00" y1="469.30" x2="293.20" y2="469.30" stroke="#666" stroke-width="0.9" />
<polygon points="270.77,459.60 271.39,461.20 273.11,461.29 271.77,462.37 272.22,464.03 270.77,463.10 269.33,464.03 269.78,462.37 268.44,461.29 270.16,461.20" fill="#333"/>
<polygon points="276.62,459.60 277.24,461.20 278.96,461.29 277.62,462.37 278.07,464.03 276.62,463.10 275.18,464.03 275.63,462.37 274.29,461.29 276.01,461.20" fill="#333"/>
<text x="0.00" y="0.00" font-size="11" text-anchor="middle" fill="#444" font-weight="normal" transform="translate(197.6,519.6) rotate(-90)">Maximum d<tspan font-style="italic">V</tspan>/d<tspan font-style="italic">T</tspan></text>
<text x="0.00" y="0.00" font-size="11" text-anchor="middle" fill="#444" font-weight="normal" transform="translate(208.6,518.4) rotate(-90)">(mV ms<tspan font-size="7.5" dy="-3.5">−1</tspan><tspan dy="3.5">)</tspan></text>
<text x="255.90" y="583.60" font-size="11" text-anchor="middle" fill="#444" font-weight="normal" >High</text>
<text x="255.90" y="595.40" font-size="11" text-anchor="middle" fill="#444" font-weight="normal" >grade</text>
<text x="292.90" y="583.60" font-size="11" text-anchor="middle" fill="#444" font-weight="normal" >Low</text>
<text x="292.90" y="595.40" font-size="11" text-anchor="middle" fill="#444" font-weight="normal" >grade</text>
<circle cx="503.20" cy="489.74" r="1.5" fill="#5b8fd6"/>
<circle cx="504.46" cy="491.58" r="1.5" fill="#5b8fd6"/>
<circle cx="502.30" cy="492.15" r="1.5" fill="#5b8fd6"/>
<circle cx="505.68" cy="493.44" r="1.5" fill="#5b8fd6"/>
<circle cx="500.50" cy="493.46" r="1.5" fill="#5b8fd6"/>
<circle cx="503.20" cy="494.31" r="1.5" fill="#5b8fd6"/>
<circle cx="507.33" cy="494.93" r="1.5" fill="#5b8fd6"/>
<circle cx="504.25" cy="496.27" r="1.5" fill="#5b8fd6"/>
<circle cx="502.03" cy="496.47" r="1.5" fill="#5b8fd6"/>
<circle cx="505.92" cy="497.75" r="1.5" fill="#5b8fd6"/>
<circle cx="500.60" cy="498.18" r="1.5" fill="#5b8fd6"/>
<circle cx="498.37" cy="498.24" r="1.5" fill="#5b8fd6"/>
<circle cx="508.09" cy="498.26" r="1.5" fill="#5b8fd6"/>
<circle cx="503.20" cy="499.34" r="1.5" fill="#5b8fd6"/>
<circle cx="505.27" cy="500.16" r="1.5" fill="#5b8fd6"/>
<circle cx="501.20" cy="500.33" r="1.5" fill="#5b8fd6"/>
<circle cx="498.98" cy="500.56" r="1.5" fill="#5b8fd6"/>
<circle cx="503.20" cy="502.04" r="1.5" fill="#5b8fd6"/>
<circle cx="505.39" cy="502.45" r="1.5" fill="#5b8fd6"/>
<circle cx="500.61" cy="502.47" r="1.5" fill="#5b8fd6"/>
<circle cx="507.61" cy="502.64" r="1.5" fill="#5b8fd6"/>
<circle cx="498.40" cy="502.75" r="1.5" fill="#5b8fd6"/>
<circle cx="509.69" cy="503.46" r="1.5" fill="#5b8fd6"/>
<circle cx="496.39" cy="503.72" r="1.5" fill="#5b8fd6"/>
<circle cx="511.89" cy="503.84" r="1.5" fill="#5b8fd6"/>
<circle cx="503.20" cy="504.28" r="1.5" fill="#5b8fd6"/>
<circle cx="505.39" cy="504.70" r="1.5" fill="#5b8fd6"/>
<circle cx="501.02" cy="504.77" r="1.5" fill="#5b8fd6"/>
<circle cx="507.39" cy="505.68" r="1.5" fill="#5b8fd6"/>
<circle cx="499.00" cy="505.71" r="1.5" fill="#5b8fd6"/>
<circle cx="509.59" cy="506.05" r="1.5" fill="#5b8fd6"/>
<circle cx="503.20" cy="506.54" r="1.5" fill="#5b8fd6"/>
<circle cx="497.10" cy="506.86" r="1.5" fill="#5b8fd6"/>
<circle cx="504.99" cy="507.87" r="1.5" fill="#5b8fd6"/>
<circle cx="501.58" cy="508.07" r="1.5" fill="#5b8fd6"/>
<circle cx="499.35" cy="508.16" r="1.5" fill="#5b8fd6"/>
<circle cx="507.20" cy="508.19" r="1.5" fill="#5b8fd6"/>
<circle cx="509.41" cy="508.43" r="1.5" fill="#5b8fd6"/>
<circle cx="495.89" cy="508.73" r="1.5" fill="#5b8fd6"/>
<circle cx="503.20" cy="510.00" r="1.5" fill="#5b8fd6"/>
<circle cx="505.38" cy="510.48" r="1.5" fill="#5b8fd6"/>
<circle cx="501.10" cy="510.76" r="1.5" fill="#5b8fd6"/>
<circle cx="498.91" cy="511.18" r="1.5" fill="#5b8fd6"/>
<circle cx="507.48" cy="511.22" r="1.5" fill="#5b8fd6"/>
<circle cx="496.77" cy="511.81" r="1.5" fill="#5b8fd6"/>
<circle cx="503.20" cy="512.43" r="1.5" fill="#5b8fd6"/>
<circle cx="505.41" cy="512.76" r="1.5" fill="#5b8fd6"/>
<circle cx="500.71" cy="512.95" r="1.5" fill="#5b8fd6"/>
<circle cx="508.81" cy="513.01" r="1.5" fill="#5b8fd6"/>
<circle cx="511.04" cy="513.02" r="1.5" fill="#5b8fd6"/>
<circle cx="498.68" cy="513.86" r="1.5" fill="#5b8fd6"/>
<circle cx="506.83" cy="514.47" r="1.5" fill="#5b8fd6"/>
<circle cx="503.72" cy="514.59" r="1.5" fill="#5b8fd6"/>
<circle cx="501.55" cy="515.08" r="1.5" fill="#5b8fd6"/>
<circle cx="508.81" cy="515.49" r="1.5" fill="#5b8fd6"/>
<circle cx="497.32" cy="515.63" r="1.5" fill="#5b8fd6"/>
<circle cx="503.20" cy="517.44" r="1.5" fill="#5b8fd6"/>
<circle cx="505.41" cy="517.76" r="1.5" fill="#5b8fd6"/>
<circle cx="501.02" cy="517.88" r="1.5" fill="#5b8fd6"/>
<circle cx="507.59" cy="518.23" r="1.5" fill="#5b8fd6"/>
<circle cx="498.81" cy="518.24" r="1.5" fill="#5b8fd6"/>
<circle cx="509.80" cy="518.52" r="1.5" fill="#5b8fd6"/>
<circle cx="496.75" cy="519.08" r="1.5" fill="#5b8fd6"/>
<circle cx="503.93" cy="519.54" r="1.5" fill="#5b8fd6"/>
<circle cx="506.12" cy="519.93" r="1.5" fill="#5b8fd6"/>
<circle cx="501.74" cy="519.99" r="1.5" fill="#5b8fd6"/>
<circle cx="499.64" cy="520.71" r="1.5" fill="#5b8fd6"/>
<circle cx="503.20" cy="521.70" r="1.5" fill="#5b8fd6"/>
<circle cx="505.37" cy="522.22" r="1.5" fill="#5b8fd6"/>
<circle cx="501.25" cy="522.79" r="1.5" fill="#5b8fd6"/>
<circle cx="499.03" cy="522.94" r="1.5" fill="#5b8fd6"/>
<circle cx="507.37" cy="523.20" r="1.5" fill="#5b8fd6"/>
<circle cx="496.85" cy="523.42" r="1.5" fill="#5b8fd6"/>
<circle cx="503.20" cy="524.33" r="1.5" fill="#5b8fd6"/>
<circle cx="509.23" cy="524.43" r="1.5" fill="#5b8fd6"/>
<circle cx="504.97" cy="525.68" r="1.5" fill="#5b8fd6"/>
<circle cx="502.97" cy="526.66" r="1.5" fill="#5b8fd6"/>
<circle cx="500.80" cy="527.18" r="1.5" fill="#5b8fd6"/>
<circle cx="504.71" cy="528.05" r="1.5" fill="#5b8fd6"/>
<circle cx="506.93" cy="528.18" r="1.5" fill="#5b8fd6"/>
<circle cx="498.90" cy="528.35" r="1.5" fill="#5b8fd6"/>
<circle cx="509.15" cy="528.46" r="1.5" fill="#5b8fd6"/>
<circle cx="503.20" cy="530.56" r="1.5" fill="#5b8fd6"/>
<circle cx="505.09" cy="531.74" r="1.5" fill="#5b8fd6"/>
<circle cx="503.20" cy="533.19" r="1.5" fill="#5b8fd6"/>
<circle cx="501.06" cy="533.83" r="1.5" fill="#5b8fd6"/>
<circle cx="505.53" cy="533.92" r="1.5" fill="#5b8fd6"/>
<circle cx="499.02" cy="534.72" r="1.5" fill="#5b8fd6"/>
<circle cx="503.20" cy="536.16" r="1.5" fill="#5b8fd6"/>
<circle cx="504.72" cy="537.79" r="1.5" fill="#5b8fd6"/>
<circle cx="503.20" cy="543.13" r="1.5" fill="#5b8fd6"/>
<circle cx="503.20" cy="551.04" r="1.5" fill="#5b8fd6"/>
<circle cx="533.90" cy="485.37" r="1.5" fill="#22b04a"/>
<circle cx="536.26" cy="486.57" r="1.5" fill="#22b04a"/>
<circle cx="531.80" cy="486.98" r="1.5" fill="#22b04a"/>
<circle cx="534.01" cy="488.44" r="1.5" fill="#22b04a"/>
<circle cx="536.82" cy="489.15" r="1.5" fill="#22b04a"/>
<circle cx="530.83" cy="489.44" r="1.5" fill="#22b04a"/>
<circle cx="533.29" cy="490.99" r="1.5" fill="#22b04a"/>
<circle cx="538.39" cy="491.29" r="1.5" fill="#22b04a"/>
<circle cx="535.75" cy="491.96" r="1.5" fill="#22b04a"/>
<circle cx="531.21" cy="492.63" r="1.5" fill="#22b04a"/>
<circle cx="533.72" cy="493.67" r="1.5" fill="#22b04a"/>
<circle cx="537.08" cy="494.25" r="1.5" fill="#22b04a"/>
<circle cx="531.63" cy="495.29" r="1.5" fill="#22b04a"/>
<circle cx="528.98" cy="495.35" r="1.5" fill="#22b04a"/>
<circle cx="534.06" cy="496.36" r="1.5" fill="#22b04a"/>
<circle cx="538.15" cy="496.67" r="1.5" fill="#22b04a"/>
<circle cx="527.21" cy="497.31" r="1.5" fill="#22b04a"/>
<circle cx="540.65" cy="497.54" r="1.5" fill="#22b04a"/>
<circle cx="524.57" cy="497.59" r="1.5" fill="#22b04a"/>
<circle cx="532.17" cy="498.22" r="1.5" fill="#22b04a"/>
<circle cx="534.70" cy="498.98" r="1.5" fill="#22b04a"/>
<circle cx="537.31" cy="499.44" r="1.5" fill="#22b04a"/>
<circle cx="530.36" cy="500.15" r="1.5" fill="#22b04a"/>
<circle cx="539.78" cy="500.41" r="1.5" fill="#22b04a"/>
<circle cx="527.73" cy="500.49" r="1.5" fill="#22b04a"/>
<circle cx="542.41" cy="500.69" r="1.5" fill="#22b04a"/>
<circle cx="533.90" cy="501.99" r="1.5" fill="#22b04a"/>
<circle cx="536.55" cy="502.00" r="1.5" fill="#22b04a"/>
<circle cx="525.61" cy="502.07" r="1.5" fill="#22b04a"/>
<circle cx="544.38" cy="502.46" r="1.5" fill="#22b04a"/>
<circle cx="522.99" cy="502.47" r="1.5" fill="#22b04a"/>
<circle cx="531.42" cy="502.92" r="1.5" fill="#22b04a"/>
<circle cx="538.60" cy="503.67" r="1.5" fill="#22b04a"/>
<circle cx="535.15" cy="504.32" r="1.5" fill="#22b04a"/>
<circle cx="529.31" cy="504.53" r="1.5" fill="#22b04a"/>
<circle cx="541.01" cy="504.78" r="1.5" fill="#22b04a"/>
<circle cx="526.72" cy="505.09" r="1.5" fill="#22b04a"/>
<circle cx="533.40" cy="506.30" r="1.5" fill="#22b04a"/>
<circle cx="536.29" cy="506.71" r="1.5" fill="#22b04a"/>
<circle cx="531.08" cy="507.58" r="1.5" fill="#22b04a"/>
<circle cx="538.77" cy="507.63" r="1.5" fill="#22b04a"/>
<circle cx="528.47" cy="508.03" r="1.5" fill="#22b04a"/>
<circle cx="533.90" cy="509.09" r="1.5" fill="#22b04a"/>
<circle cx="536.51" cy="509.56" r="1.5" fill="#22b04a"/>
<circle cx="532.13" cy="511.06" r="1.5" fill="#22b04a"/>
<circle cx="529.49" cy="511.35" r="1.5" fill="#22b04a"/>
<circle cx="534.72" cy="511.62" r="1.5" fill="#22b04a"/>
<circle cx="536.70" cy="513.36" r="1.5" fill="#22b04a"/>
<circle cx="533.04" cy="513.66" r="1.5" fill="#22b04a"/>
<circle cx="530.45" cy="514.22" r="1.5" fill="#22b04a"/>
<circle cx="538.43" cy="515.37" r="1.5" fill="#22b04a"/>
<circle cx="528.07" cy="515.38" r="1.5" fill="#22b04a"/>
<circle cx="533.90" cy="517.19" r="1.5" fill="#22b04a"/>
<circle cx="536.20" cy="518.50" r="1.5" fill="#22b04a"/>
<circle cx="533.90" cy="521.99" r="1.5" fill="#22b04a"/>
<circle cx="533.90" cy="531.26" r="1.5" fill="#22b04a"/>
<line x1="493.60" y1="513.80" x2="512.20" y2="513.80" stroke="#3c5fb8" stroke-width="2.2" />
<line x1="525.20" y1="502.90" x2="543.00" y2="502.90" stroke="#2a6a3a" stroke-width="2.2" />
<line x1="484.40" y1="468.90" x2="484.40" y2="565.30" stroke="#959595" stroke-width="1.3" />
<line x1="481.10" y1="468.90" x2="484.40" y2="468.90" stroke="#959595" stroke-width="1.3" />
<text x="475.10" y="472.60" font-size="10.5" text-anchor="end" fill="#444" font-weight="normal" >110</text>
<line x1="481.10" y1="488.30" x2="484.40" y2="488.30" stroke="#959595" stroke-width="1.3" />
<text x="475.10" y="492.00" font-size="10.5" text-anchor="end" fill="#444" font-weight="normal" >100</text>
<line x1="481.10" y1="507.60" x2="484.40" y2="507.60" stroke="#959595" stroke-width="1.3" />
<text x="475.10" y="511.30" font-size="10.5" text-anchor="end" fill="#444" font-weight="normal" >90</text>
<line x1="481.10" y1="526.90" x2="484.40" y2="526.90" stroke="#959595" stroke-width="1.3" />
<text x="475.10" y="530.60" font-size="10.5" text-anchor="end" fill="#444" font-weight="normal" >80</text>
<line x1="481.10" y1="546.10" x2="484.40" y2="546.10" stroke="#959595" stroke-width="1.3" />
<text x="475.10" y="549.80" font-size="10.5" text-anchor="end" fill="#444" font-weight="normal" >70</text>
<line x1="481.10" y1="565.30" x2="484.40" y2="565.30" stroke="#959595" stroke-width="1.3" />
<text x="475.10" y="569.00" font-size="10.5" text-anchor="end" fill="#444" font-weight="normal" >60</text>
<line x1="484.40" y1="565.30" x2="551.50" y2="565.30" stroke="#959595" stroke-width="1.3" />
<line x1="503.20" y1="565.30" x2="503.20" y2="568.30" stroke="#959595" stroke-width="1.3" />
<line x1="536.50" y1="565.30" x2="536.50" y2="568.30" stroke="#959595" stroke-width="1.3" />
<line x1="502.60" y1="466.60" x2="539.80" y2="466.60" stroke="#666" stroke-width="0.9" />
<polygon points="515.45,457.70 516.07,459.30 517.78,459.39 516.45,460.47 516.89,462.13 515.45,461.20 514.01,462.13 514.45,460.47 513.12,459.39 514.83,459.30" fill="#333"/>
<polygon points="521.30,457.70 521.92,459.30 523.63,459.39 522.30,460.47 522.74,462.13 521.30,461.20 519.86,462.13 520.30,460.47 518.97,459.39 520.68,459.30" fill="#333"/>
<polygon points="527.15,457.70 527.77,459.30 529.48,459.39 528.15,460.47 528.59,462.13 527.15,461.20 525.71,462.13 526.15,460.47 524.82,459.39 526.53,459.30" fill="#333"/>
<text x="0.00" y="0.00" font-size="11" text-anchor="middle" fill="#444" font-weight="normal" transform="translate(451,517.5) rotate(-90)">AP amplitude (mV)</text>
<text x="503.60" y="583.70" font-size="11" text-anchor="middle" fill="#444" font-weight="normal" >High</text>
<text x="503.20" y="595.50" font-size="11" text-anchor="middle" fill="#444" font-weight="normal" >grade</text>
<text x="532.50" y="583.70" font-size="11" text-anchor="middle" fill="#444" font-weight="normal" >Low</text>
<text x="535.70" y="595.50" font-size="11" text-anchor="middle" fill="#444" font-weight="normal" >grade</text>
<rect x="636.20" y="480.50" width="1.20" height="1.6" fill="#f5a242"/>
<rect x="636.00" y="482.00" width="1.60" height="1.6" fill="#f5a242"/>
<rect x="635.70" y="483.70" width="2.20" height="1.6" fill="#f5a242"/>
<rect x="635.10" y="485.40" width="3.40" height="1.6" fill="#f5a242"/>
<rect x="634.30" y="487.10" width="5.00" height="1.6" fill="#f5a242"/>
<rect x="633.50" y="488.80" width="6.60" height="1.6" fill="#f5a242"/>
<rect x="632.00" y="490.50" width="9.60" height="1.6" fill="#f5a242"/>
<rect x="630.00" y="492.20" width="13.60" height="1.6" fill="#f5a242"/>
<rect x="627.80" y="493.90" width="18.00" height="1.6" fill="#f5a242"/>
<rect x="627.50" y="495.60" width="18.60" height="1.6" fill="#f5a242"/>
<rect x="627.80" y="497.30" width="18.00" height="1.6" fill="#f5a242"/>
<rect x="628.60" y="499.00" width="16.40" height="1.6" fill="#f5a242"/>
<rect x="632.00" y="500.70" width="9.60" height="1.6" fill="#f5a242"/>
<rect x="632.70" y="502.40" width="8.20" height="1.6" fill="#f5a242"/>
<rect x="633.60" y="504.10" width="6.40" height="1.6" fill="#f5a242"/>
<rect x="634.60" y="505.80" width="4.40" height="1.6" fill="#f5a242"/>
<rect x="635.80" y="507.40" width="2.00" height="1.6" fill="#f5a242"/>
<rect x="662.80" y="500.30" width="3.00" height="1.6" fill="#c6c6c6"/>
<rect x="662.10" y="502.50" width="4.40" height="1.6" fill="#c6c6c6"/>
<rect x="660.80" y="504.70" width="7.00" height="1.6" fill="#c6c6c6"/>
<rect x="657.80" y="506.90" width="13.00" height="1.6" fill="#c6c6c6"/>
<rect x="657.10" y="508.70" width="14.40" height="1.6" fill="#c6c6c6"/>
<rect x="656.50" y="510.50" width="15.60" height="1.6" fill="#c6c6c6"/>
<rect x="655.80" y="512.30" width="17.00" height="1.6" fill="#c6c6c6"/>
<rect x="655.30" y="514.10" width="18.00" height="1.6" fill="#c6c6c6"/>
<rect x="655.30" y="515.90" width="18.00" height="1.6" fill="#c6c6c6"/>
<rect x="656.10" y="517.70" width="16.40" height="1.6" fill="#c6c6c6"/>
<rect x="657.10" y="519.50" width="14.40" height="1.6" fill="#c6c6c6"/>
<rect x="657.50" y="521.30" width="13.60" height="1.6" fill="#c6c6c6"/>
<rect x="658.00" y="523.10" width="12.60" height="1.6" fill="#c6c6c6"/>
<rect x="658.30" y="524.90" width="12.00" height="1.6" fill="#c6c6c6"/>
<rect x="659.80" y="526.70" width="9.00" height="1.6" fill="#c6c6c6"/>
<rect x="661.10" y="528.50" width="6.40" height="1.6" fill="#c6c6c6"/>
<rect x="662.10" y="530.30" width="4.40" height="1.6" fill="#c6c6c6"/>
<rect x="662.80" y="531.80" width="3.00" height="1.6" fill="#c6c6c6"/>
<rect x="662.50" y="535.10" width="3.60" height="1.6" fill="#c6c6c6"/>
<rect x="663.50" y="543.90" width="1.60" height="1.6" fill="#c6c6c6"/>
<line x1="627.30" y1="496.00" x2="646.30" y2="496.00" stroke="#c0641e" stroke-width="2.2" />
<line x1="655.00" y1="517.20" x2="673.80" y2="517.20" stroke="#111" stroke-width="2.2" />
<line x1="618.60" y1="468.90" x2="618.60" y2="565.40" stroke="#858585" stroke-width="1.3" />
<line x1="615.30" y1="468.90" x2="618.60" y2="468.90" stroke="#858585" stroke-width="1.3" />
<text x="609.30" y="472.60" font-size="10.5" text-anchor="end" fill="#444" font-weight="normal" >100</text>
<line x1="615.30" y1="488.30" x2="618.60" y2="488.30" stroke="#858585" stroke-width="1.3" />
<text x="609.30" y="492.00" font-size="10.5" text-anchor="end" fill="#444" font-weight="normal" >80</text>
<line x1="615.30" y1="507.60" x2="618.60" y2="507.60" stroke="#858585" stroke-width="1.3" />
<text x="609.30" y="511.30" font-size="10.5" text-anchor="end" fill="#444" font-weight="normal" >60</text>
<line x1="615.30" y1="526.90" x2="618.60" y2="526.90" stroke="#858585" stroke-width="1.3" />
<text x="609.30" y="530.60" font-size="10.5" text-anchor="end" fill="#444" font-weight="normal" >40</text>
<line x1="615.30" y1="546.10" x2="618.60" y2="546.10" stroke="#858585" stroke-width="1.3" />
<text x="609.30" y="549.80" font-size="10.5" text-anchor="end" fill="#444" font-weight="normal" >20</text>
<line x1="615.30" y1="565.40" x2="618.60" y2="565.40" stroke="#858585" stroke-width="1.3" />
<text x="609.30" y="569.10" font-size="10.5" text-anchor="end" fill="#444" font-weight="normal" >0</text>
<line x1="618.60" y1="565.60" x2="683.00" y2="565.60" stroke="#858585" stroke-width="1.3" />
<line x1="636.30" y1="565.60" x2="636.30" y2="569.30" stroke="#858585" stroke-width="1.3" />
<line x1="664.60" y1="565.60" x2="664.60" y2="569.30" stroke="#858585" stroke-width="1.3" />
<line x1="636.90" y1="470.30" x2="664.50" y2="470.30" stroke="#666" stroke-width="0.9" />
<polygon points="642.02,461.70 642.64,463.30 644.36,463.39 643.02,464.47 643.47,466.13 642.02,465.20 640.58,466.13 641.03,464.47 639.69,463.39 641.41,463.30" fill="#333"/>
<polygon points="647.88,461.70 648.49,463.30 650.21,463.39 648.87,464.47 649.32,466.13 647.88,465.20 646.43,466.13 646.88,464.47 645.54,463.39 647.26,463.30" fill="#333"/>
<polygon points="653.72,461.70 654.34,463.30 656.06,463.39 654.72,464.47 655.17,466.13 653.72,465.20 652.28,466.13 652.73,464.47 651.39,463.39 653.11,463.30" fill="#333"/>
<polygon points="659.57,461.70 660.19,463.30 661.91,463.39 660.57,464.47 661.02,466.13 659.57,465.20 658.13,466.13 658.58,464.47 657.24,463.39 658.96,463.30" fill="#333"/>
<text x="0.00" y="0.00" font-size="10.3" text-anchor="middle" fill="#444" font-weight="normal" transform="translate(578.4,520.1) rotate(-90)">DFA classifier</text>
<text x="0.00" y="0.00" font-size="10.5" text-anchor="middle" fill="#444" font-weight="normal" transform="translate(590.2,517.0) rotate(-90)">performance (%)</text>
<text x="0.00" y="0.00" font-size="11" text-anchor="end" fill="#444" font-weight="normal" transform="translate(640.8,578.6) rotate(-45)">Origin</text>
<text x="0.00" y="0.00" font-size="11" text-anchor="end" fill="#444" font-weight="normal" transform="translate(670.2,581.0) rotate(-45)">Shuffled</text>
<line x1="42.90" y1="530.50" x2="172.50" y2="530.50" stroke="#707070" stroke-width="1.1" stroke-dasharray="5.25,2.2"/>
<path d="M43.5,533.2 L52,534.2 L58.4,535.6 L62,537.4 L58.4,537.6 L52,537.0 L43.5,535.4 Z" fill="#5b8fd6"/>
<path d="M45.50,530.30 C45.73,529.40 46.28,526.75 46.90,524.90 C47.52,523.05 48.43,520.93 49.20,519.20 C49.97,517.47 50.63,515.95 51.50,514.50 C52.37,513.05 53.25,511.87 54.40,510.50 C55.55,509.13 56.97,507.55 58.40,506.30 C59.83,505.05 61.47,504.02 63.00,503.00 C64.53,501.98 66.07,501.25 67.60,500.20 C69.13,499.15 70.65,497.87 72.20,496.70 C73.75,495.53 75.35,494.58 76.90,493.20 C78.45,491.82 80.02,490.10 81.50,488.40 C82.98,486.70 84.47,484.60 85.80,483.00 C87.13,481.40 88.22,480.30 89.50,478.80 C90.78,477.30 92.05,475.48 93.50,474.00 C94.95,472.52 96.45,471.17 98.20,469.90 C99.95,468.63 101.97,467.23 104.00,466.40 C106.03,465.57 108.30,465.03 110.40,464.90 C112.50,464.77 114.65,465.15 116.60,465.60 C118.55,466.05 120.30,466.75 122.10,467.60 C123.90,468.45 125.65,469.53 127.40,470.70 C129.15,471.87 130.95,473.37 132.60,474.60 C134.25,475.83 135.83,476.93 137.30,478.10 C138.77,479.27 139.93,480.43 141.40,481.60 C142.87,482.77 144.73,483.83 146.10,485.10 C147.47,486.37 148.43,487.83 149.60,489.20 C150.77,490.57 152.03,491.83 153.10,493.30 C154.17,494.77 155.03,496.25 156.00,498.00 C156.97,499.75 157.93,501.77 158.90,503.80 C159.87,505.83 160.83,507.77 161.80,510.20 C162.77,512.63 163.93,515.98 164.70,518.40 C165.47,520.82 166.08,522.67 166.40,524.70 C166.72,526.73 166.77,528.72 166.60,530.60 C166.43,532.48 166.10,534.43 165.40,536.00 C164.70,537.57 163.88,538.93 162.40,540.00 C160.92,541.07 158.63,541.83 156.50,542.40 C154.37,542.97 152.40,543.23 149.60,543.40 C146.80,543.57 143.82,543.43 139.70,543.40 C135.58,543.37 129.60,543.22 124.90,543.20 C120.20,543.18 115.65,543.28 111.50,543.30 C107.35,543.32 103.28,543.35 100.00,543.30 C96.72,543.25 94.50,543.13 91.80,543.00 C89.10,542.87 86.28,542.78 83.80,542.50 C81.32,542.22 79.20,541.70 76.90,541.30 C74.60,540.90 72.32,540.67 70.00,540.10 C67.68,539.53 64.93,538.58 63.00,537.90 C61.07,537.22 60.23,536.55 58.40,536.00 C56.57,535.45 54.07,535.00 52.00,534.60 C49.93,534.20 47.00,533.77 46.00,533.60" stroke="#3cb54a" stroke-width="0.9" fill="none" />
<path d="M45.50,530.30 C45.73,529.40 46.28,526.75 46.90,524.90 C47.52,523.05 48.43,520.93 49.20,519.20 C49.97,517.47 50.63,515.95 51.50,514.50 C52.37,513.05 53.25,511.87 54.40,510.50 C55.55,509.13 56.97,507.55 58.40,506.30 C59.83,505.05 61.47,504.02 63.00,503.00 C64.53,501.98 66.07,501.25 67.60,500.20 C69.13,499.15 70.65,497.87 72.20,496.70 C73.75,495.53 75.35,494.42 76.90,493.20 C78.45,491.98 79.97,490.83 81.50,489.40 C83.03,487.97 84.68,486.00 86.10,484.60 C87.52,483.20 88.57,482.28 90.00,481.00 C91.43,479.72 92.95,478.27 94.70,476.90 C96.45,475.53 98.65,473.90 100.50,472.80 C102.35,471.70 103.98,470.88 105.80,470.30 C107.62,469.72 109.60,469.30 111.40,469.30 C113.20,469.30 114.82,469.75 116.60,470.30 C118.38,470.85 120.40,471.68 122.10,472.60 C123.80,473.52 125.23,474.58 126.80,475.80 C128.37,477.02 129.95,478.55 131.50,479.90 C133.05,481.25 134.65,482.55 136.10,483.90 C137.55,485.25 138.93,486.63 140.20,488.00 C141.47,489.37 142.53,490.73 143.70,492.10 C144.87,493.47 146.13,494.83 147.20,496.20 C148.27,497.57 149.03,498.45 150.10,500.30 C151.17,502.15 152.52,505.07 153.60,507.30 C154.68,509.53 155.72,511.65 156.60,513.70 C157.48,515.75 158.33,517.93 158.90,519.60 C159.47,521.27 159.73,522.03 160.00,523.70 C160.27,525.37 160.58,527.63 160.50,529.60 C160.42,531.57 160.17,533.77 159.50,535.50 C158.83,537.23 157.82,538.77 156.50,540.00 C155.18,541.23 153.57,542.08 151.60,542.90 C149.63,543.72 147.50,544.45 144.70,544.90 C141.90,545.35 138.10,545.52 134.80,545.60 C131.50,545.68 128.70,545.50 124.90,545.40 C121.10,545.30 116.15,545.20 112.00,545.00 C107.85,544.80 103.37,544.40 100.00,544.20 C96.63,544.00 94.50,543.95 91.80,543.80 C89.10,543.65 86.28,543.57 83.80,543.30 C81.32,543.03 79.20,542.60 76.90,542.20 C74.60,541.80 72.32,541.48 70.00,540.90 C67.68,540.32 64.93,539.35 63.00,538.70 C61.07,538.05 60.23,537.48 58.40,537.00 C56.57,536.52 54.07,536.17 52.00,535.80 C49.93,535.43 47.00,534.97 46.00,534.80" stroke="#5b8fd6" stroke-width="0.9" fill="none" />
<line x1="40.00" y1="533.30" x2="60.20" y2="533.30" stroke="#3cb54a" stroke-width="0.8" />
<line x1="88.00" y1="478.80" x2="91.00" y2="478.80" stroke="#3cb54a" stroke-width="0.65" />
<line x1="89.50" y1="476.20" x2="89.50" y2="481.40" stroke="#3cb54a" stroke-width="0.65" />
<line x1="92.00" y1="474.00" x2="95.00" y2="474.00" stroke="#3cb54a" stroke-width="0.65" />
<line x1="93.50" y1="471.40" x2="93.50" y2="476.60" stroke="#3cb54a" stroke-width="0.65" />
<line x1="96.70" y1="469.90" x2="99.70" y2="469.90" stroke="#3cb54a" stroke-width="0.65" />
<line x1="98.20" y1="467.30" x2="98.20" y2="472.50" stroke="#3cb54a" stroke-width="0.65" />
<line x1="102.50" y1="466.40" x2="105.50" y2="466.40" stroke="#3cb54a" stroke-width="0.65" />
<line x1="104.00" y1="463.80" x2="104.00" y2="469.00" stroke="#3cb54a" stroke-width="0.65" />
<line x1="108.90" y1="464.90" x2="111.90" y2="464.90" stroke="#3cb54a" stroke-width="0.65" />
<line x1="110.40" y1="462.30" x2="110.40" y2="467.50" stroke="#3cb54a" stroke-width="0.65" />
<line x1="115.10" y1="465.60" x2="118.10" y2="465.60" stroke="#3cb54a" stroke-width="0.65" />
<line x1="116.60" y1="463.00" x2="116.60" y2="468.20" stroke="#3cb54a" stroke-width="0.65" />
<line x1="120.60" y1="467.60" x2="123.60" y2="467.60" stroke="#3cb54a" stroke-width="0.65" />
<line x1="122.10" y1="465.00" x2="122.10" y2="470.20" stroke="#3cb54a" stroke-width="0.65" />
<line x1="125.90" y1="470.70" x2="128.90" y2="470.70" stroke="#3cb54a" stroke-width="0.65" />
<line x1="127.40" y1="468.10" x2="127.40" y2="473.30" stroke="#3cb54a" stroke-width="0.65" />
<line x1="131.10" y1="474.60" x2="134.10" y2="474.60" stroke="#3cb54a" stroke-width="0.65" />
<line x1="132.60" y1="472.00" x2="132.60" y2="477.20" stroke="#3cb54a" stroke-width="0.65" />
<line x1="135.80" y1="478.10" x2="138.80" y2="478.10" stroke="#3cb54a" stroke-width="0.65" />
<line x1="137.30" y1="475.50" x2="137.30" y2="480.70" stroke="#3cb54a" stroke-width="0.65" />
<line x1="139.90" y1="481.60" x2="142.90" y2="481.60" stroke="#3cb54a" stroke-width="0.65" />
<line x1="141.40" y1="479.00" x2="141.40" y2="484.20" stroke="#3cb54a" stroke-width="0.65" />
<line x1="144.60" y1="485.10" x2="147.60" y2="485.10" stroke="#3cb54a" stroke-width="0.65" />
<line x1="146.10" y1="482.50" x2="146.10" y2="487.70" stroke="#3cb54a" stroke-width="0.65" />
<line x1="148.10" y1="489.20" x2="151.10" y2="489.20" stroke="#3cb54a" stroke-width="0.65" />
<line x1="149.60" y1="486.60" x2="149.60" y2="491.80" stroke="#3cb54a" stroke-width="0.65" />
<line x1="151.60" y1="493.30" x2="154.60" y2="493.30" stroke="#3cb54a" stroke-width="0.65" />
<line x1="153.10" y1="490.70" x2="153.10" y2="495.90" stroke="#3cb54a" stroke-width="0.65" />
<line x1="154.50" y1="498.00" x2="157.50" y2="498.00" stroke="#3cb54a" stroke-width="0.65" />
<line x1="156.00" y1="495.40" x2="156.00" y2="500.60" stroke="#3cb54a" stroke-width="0.65" />
<line x1="157.40" y1="503.80" x2="160.40" y2="503.80" stroke="#3cb54a" stroke-width="0.65" />
<line x1="158.90" y1="501.20" x2="158.90" y2="506.40" stroke="#3cb54a" stroke-width="0.65" />
<line x1="160.30" y1="510.20" x2="163.30" y2="510.20" stroke="#3cb54a" stroke-width="0.65" />
<line x1="161.80" y1="507.60" x2="161.80" y2="512.80" stroke="#3cb54a" stroke-width="0.65" />
<line x1="163.20" y1="518.40" x2="166.20" y2="518.40" stroke="#3cb54a" stroke-width="0.65" />
<line x1="164.70" y1="515.80" x2="164.70" y2="521.00" stroke="#3cb54a" stroke-width="0.65" />
<line x1="164.90" y1="524.70" x2="167.90" y2="524.70" stroke="#3cb54a" stroke-width="0.65" />
<line x1="166.40" y1="522.10" x2="166.40" y2="527.30" stroke="#3cb54a" stroke-width="0.65" />
<line x1="165.10" y1="530.60" x2="168.10" y2="530.60" stroke="#3cb54a" stroke-width="0.65" />
<line x1="166.60" y1="528.00" x2="166.60" y2="533.20" stroke="#3cb54a" stroke-width="0.65" />
<line x1="163.90" y1="536.00" x2="166.90" y2="536.00" stroke="#3cb54a" stroke-width="0.65" />
<line x1="165.40" y1="533.40" x2="165.40" y2="538.60" stroke="#3cb54a" stroke-width="0.65" />
<line x1="88.80" y1="481.00" x2="91.20" y2="481.00" stroke="#5b8fd6" stroke-width="0.65" />
<line x1="90.00" y1="479.40" x2="90.00" y2="482.60" stroke="#5b8fd6" stroke-width="0.65" />
<line x1="93.50" y1="476.90" x2="95.90" y2="476.90" stroke="#5b8fd6" stroke-width="0.65" />
<line x1="94.70" y1="475.30" x2="94.70" y2="478.50" stroke="#5b8fd6" stroke-width="0.65" />
<line x1="99.30" y1="472.80" x2="101.70" y2="472.80" stroke="#5b8fd6" stroke-width="0.65" />
<line x1="100.50" y1="471.20" x2="100.50" y2="474.40" stroke="#5b8fd6" stroke-width="0.65" />
<line x1="104.60" y1="470.30" x2="107.00" y2="470.30" stroke="#5b8fd6" stroke-width="0.65" />
<line x1="105.80" y1="468.70" x2="105.80" y2="471.90" stroke="#5b8fd6" stroke-width="0.65" />
<line x1="110.20" y1="469.30" x2="112.60" y2="469.30" stroke="#5b8fd6" stroke-width="0.65" />
<line x1="111.40" y1="467.70" x2="111.40" y2="470.90" stroke="#5b8fd6" stroke-width="0.65" />
<line x1="115.40" y1="470.30" x2="117.80" y2="470.30" stroke="#5b8fd6" stroke-width="0.65" />
<line x1="116.60" y1="468.70" x2="116.60" y2="471.90" stroke="#5b8fd6" stroke-width="0.65" />
<line x1="120.90" y1="472.60" x2="123.30" y2="472.60" stroke="#5b8fd6" stroke-width="0.65" />
<line x1="122.10" y1="471.00" x2="122.10" y2="474.20" stroke="#5b8fd6" stroke-width="0.65" />
<line x1="125.60" y1="475.80" x2="128.00" y2="475.80" stroke="#5b8fd6" stroke-width="0.65" />
<line x1="126.80" y1="474.20" x2="126.80" y2="477.40" stroke="#5b8fd6" stroke-width="0.65" />
<line x1="130.30" y1="479.90" x2="132.70" y2="479.90" stroke="#5b8fd6" stroke-width="0.65" />
<line x1="131.50" y1="478.30" x2="131.50" y2="481.50" stroke="#5b8fd6" stroke-width="0.65" />
<line x1="134.90" y1="483.90" x2="137.30" y2="483.90" stroke="#5b8fd6" stroke-width="0.65" />
<line x1="136.10" y1="482.30" x2="136.10" y2="485.50" stroke="#5b8fd6" stroke-width="0.65" />
<line x1="139.00" y1="488.00" x2="141.40" y2="488.00" stroke="#5b8fd6" stroke-width="0.65" />
<line x1="140.20" y1="486.40" x2="140.20" y2="489.60" stroke="#5b8fd6" stroke-width="0.65" />
<line x1="142.50" y1="492.10" x2="144.90" y2="492.10" stroke="#5b8fd6" stroke-width="0.65" />
<line x1="143.70" y1="490.50" x2="143.70" y2="493.70" stroke="#5b8fd6" stroke-width="0.65" />
<line x1="146.00" y1="496.20" x2="148.40" y2="496.20" stroke="#5b8fd6" stroke-width="0.65" />
<line x1="147.20" y1="494.60" x2="147.20" y2="497.80" stroke="#5b8fd6" stroke-width="0.65" />
<line x1="148.90" y1="500.30" x2="151.30" y2="500.30" stroke="#5b8fd6" stroke-width="0.65" />
<line x1="150.10" y1="498.70" x2="150.10" y2="501.90" stroke="#5b8fd6" stroke-width="0.65" />
<line x1="152.40" y1="507.30" x2="154.80" y2="507.30" stroke="#5b8fd6" stroke-width="0.65" />
<line x1="153.60" y1="505.70" x2="153.60" y2="508.90" stroke="#5b8fd6" stroke-width="0.65" />
<line x1="155.40" y1="513.70" x2="157.80" y2="513.70" stroke="#5b8fd6" stroke-width="0.65" />
<line x1="156.60" y1="512.10" x2="156.60" y2="515.30" stroke="#5b8fd6" stroke-width="0.65" />
<line x1="157.70" y1="519.60" x2="160.10" y2="519.60" stroke="#5b8fd6" stroke-width="0.65" />
<line x1="158.90" y1="518.00" x2="158.90" y2="521.20" stroke="#5b8fd6" stroke-width="0.65" />
<line x1="158.80" y1="523.70" x2="161.20" y2="523.70" stroke="#5b8fd6" stroke-width="0.65" />
<line x1="160.00" y1="522.10" x2="160.00" y2="525.30" stroke="#5b8fd6" stroke-width="0.65" />
<line x1="159.30" y1="529.60" x2="161.70" y2="529.60" stroke="#5b8fd6" stroke-width="0.65" />
<line x1="160.50" y1="528.00" x2="160.50" y2="531.20" stroke="#5b8fd6" stroke-width="0.65" />
<line x1="158.30" y1="535.50" x2="160.70" y2="535.50" stroke="#5b8fd6" stroke-width="0.65" />
<line x1="159.50" y1="533.90" x2="159.50" y2="537.10" stroke="#5b8fd6" stroke-width="0.65" />
<line x1="155.30" y1="540.00" x2="157.70" y2="540.00" stroke="#5b8fd6" stroke-width="0.65" />
<line x1="156.50" y1="538.40" x2="156.50" y2="541.60" stroke="#5b8fd6" stroke-width="0.65" />
<line x1="50.00" y1="514.50" x2="53.00" y2="514.50" stroke="#3cb54a" stroke-width="0.65" />
<line x1="51.50" y1="513.50" x2="51.50" y2="515.50" stroke="#3cb54a" stroke-width="0.65" />
<line x1="52.90" y1="510.50" x2="55.90" y2="510.50" stroke="#3cb54a" stroke-width="0.65" />
<line x1="54.40" y1="509.50" x2="54.40" y2="511.50" stroke="#3cb54a" stroke-width="0.65" />
<line x1="56.90" y1="506.30" x2="59.90" y2="506.30" stroke="#3cb54a" stroke-width="0.65" />
<line x1="58.40" y1="505.30" x2="58.40" y2="507.30" stroke="#3cb54a" stroke-width="0.65" />
<line x1="61.50" y1="503.00" x2="64.50" y2="503.00" stroke="#3cb54a" stroke-width="0.65" />
<line x1="63.00" y1="502.00" x2="63.00" y2="504.00" stroke="#3cb54a" stroke-width="0.65" />
<line x1="66.10" y1="500.20" x2="69.10" y2="500.20" stroke="#3cb54a" stroke-width="0.65" />
<line x1="67.60" y1="499.20" x2="67.60" y2="501.20" stroke="#3cb54a" stroke-width="0.65" />
<line x1="70.70" y1="496.70" x2="73.70" y2="496.70" stroke="#3cb54a" stroke-width="0.65" />
<line x1="72.20" y1="495.70" x2="72.20" y2="497.70" stroke="#3cb54a" stroke-width="0.65" />
<line x1="75.40" y1="493.20" x2="78.40" y2="493.20" stroke="#3cb54a" stroke-width="0.65" />
<line x1="76.90" y1="492.20" x2="76.90" y2="494.20" stroke="#3cb54a" stroke-width="0.65" />
<line x1="45.50" y1="465.10" x2="45.50" y2="551.30" stroke="#828282" stroke-width="1.25" />
<line x1="42.40" y1="547.50" x2="172.00" y2="547.50" stroke="#828282" stroke-width="1.25" />
<line x1="42.40" y1="474.30" x2="45.50" y2="474.30" stroke="#828282" stroke-width="1.25" />
<text x="38.40" y="478.00" font-size="10.5" text-anchor="end" fill="#444" font-weight="normal" >200</text>
<line x1="42.40" y1="502.40" x2="45.50" y2="502.40" stroke="#828282" stroke-width="1.25" />
<text x="38.40" y="506.10" font-size="10.5" text-anchor="end" fill="#444" font-weight="normal" >100</text>
<line x1="42.40" y1="530.50" x2="45.50" y2="530.50" stroke="#828282" stroke-width="1.25" />
<text x="38.40" y="534.20" font-size="10.5" text-anchor="end" fill="#444" font-weight="normal" >0</text>
<text x="38.40" y="551.20" font-size="10.5" text-anchor="end" fill="#444" font-weight="normal" >−100</text>
<line x1="45.50" y1="547.50" x2="45.50" y2="551.30" stroke="#828282" stroke-width="1.25" />
<text x="45.50" y="562.80" font-size="10.5" text-anchor="middle" fill="#444" font-weight="normal" >0</text>
<line x1="70.78" y1="547.50" x2="70.78" y2="551.30" stroke="#828282" stroke-width="1.25" />
<text x="70.78" y="562.80" font-size="10.5" text-anchor="middle" fill="#444" font-weight="normal" >20</text>
<line x1="96.06" y1="547.50" x2="96.06" y2="551.30" stroke="#828282" stroke-width="1.25" />
<text x="96.06" y="562.80" font-size="10.5" text-anchor="middle" fill="#444" font-weight="normal" >40</text>
<line x1="121.34" y1="547.50" x2="121.34" y2="551.30" stroke="#828282" stroke-width="1.25" />
<text x="121.34" y="562.80" font-size="10.5" text-anchor="middle" fill="#444" font-weight="normal" >60</text>
<line x1="146.62" y1="547.50" x2="146.62" y2="551.30" stroke="#828282" stroke-width="1.25" />
<text x="146.62" y="562.80" font-size="10.5" text-anchor="middle" fill="#444" font-weight="normal" >80</text>
<line x1="171.90" y1="547.50" x2="171.90" y2="551.30" stroke="#828282" stroke-width="1.25" />
<text x="171.90" y="562.80" font-size="10.5" text-anchor="middle" fill="#444" font-weight="normal" >100</text>
<text x="109.10" y="579.90" font-size="11" text-anchor="middle" fill="#444" font-weight="normal" >Membrane potential relative</text>
<text x="107.50" y="592.00" font-size="11" text-anchor="middle" fill="#444" font-weight="normal" >to threshold (mV)</text>
<text x="0.00" y="0.00" font-size="11" text-anchor="middle" fill="#444" font-weight="normal" transform="translate(10.6,506) rotate(-90)">Derivative (mV ms<tspan font-size="7.5" dy="-3.5">−1</tspan><tspan dy="3.5">)</tspan></text>
<path d="M322.90,559.80 C324.92,559.58 331.07,558.98 335.00,558.50 C338.93,558.02 344.30,558.15 346.50,556.90 C348.70,555.65 347.73,553.65 348.20,551.00 C348.67,548.35 348.93,545.83 349.30,541.00 C349.67,536.17 350.07,528.33 350.40,522.00 C350.73,515.67 351.00,509.33 351.30,503.00 C351.60,496.67 351.92,489.00 352.20,484.00 C352.48,479.00 352.75,475.57 353.00,473.00 C353.25,470.43 353.47,469.53 353.70,468.60 C353.93,467.67 354.13,467.43 354.40,467.40 C354.67,467.37 354.97,467.72 355.30,468.40 C355.63,469.08 356.02,469.98 356.40,471.50 C356.78,473.02 357.10,474.42 357.60,477.50 C358.10,480.58 358.43,485.23 359.40,490.00 C360.37,494.77 361.87,500.02 363.40,506.10 C364.93,512.18 367.07,520.42 368.60,526.50 C370.13,532.58 371.57,538.68 372.60,542.60 C373.63,546.52 374.02,547.80 374.80,550.00 C375.58,552.20 376.35,554.22 377.30,555.80 C378.25,557.38 379.22,558.50 380.50,559.50 C381.78,560.50 383.08,561.15 385.00,561.80 C386.92,562.45 388.67,562.90 392.00,563.40 C395.33,563.90 399.63,564.32 405.00,564.80 C410.37,565.28 421.00,566.05 424.20,566.30" stroke="#2f7fd3" stroke-width="1.1" fill="none" stroke-linejoin="round"/>
<path d="M322.90,557.40 C324.92,557.30 331.07,557.03 335.00,556.80 C338.93,556.57 344.30,557.13 346.50,556.00 C348.70,554.87 347.73,552.67 348.20,550.00 C348.67,547.33 348.93,544.67 349.30,540.00 C349.67,535.33 350.07,528.17 350.40,522.00 C350.73,515.83 351.00,509.67 351.30,503.00 C351.60,496.33 351.92,488.17 352.20,482.00 C352.48,475.83 352.73,469.75 353.00,466.00 C353.27,462.25 353.53,460.97 353.80,459.50 C354.07,458.03 354.32,457.42 354.60,457.20 C354.88,456.98 355.17,457.48 355.50,458.20 C355.83,458.92 356.15,459.95 356.60,461.50 C357.05,463.05 357.25,462.75 358.20,467.50 C359.15,472.25 360.85,483.33 362.30,490.00 C363.75,496.67 365.30,501.42 366.90,507.50 C368.50,513.58 370.35,520.65 371.90,526.50 C373.45,532.35 375.05,538.98 376.20,542.60 C377.35,546.22 377.87,546.72 378.80,548.20 C379.73,549.68 380.60,550.57 381.80,551.50 C383.00,552.43 384.30,553.15 386.00,553.80 C387.70,554.45 389.67,554.93 392.00,555.40 C394.33,555.87 396.67,556.18 400.00,556.60 C403.33,557.02 407.97,557.42 412.00,557.90 C416.03,558.38 422.17,559.23 424.20,559.50" stroke="#3db54a" stroke-width="1.1" fill="none" stroke-linejoin="round"/>
<path d="M381.50,476.40 L381.50,498.90 L396.40,498.90" stroke="#555" stroke-width="0.8" fill="none" />
<text x="385.70" y="492.50" font-size="11" text-anchor="start" fill="#444" font-weight="normal" >20 mV</text>
<text x="377.60" y="511.70" font-size="11" text-anchor="start" fill="#444" font-weight="normal" >2 ms</text>
<text x="420.60" y="582.80" font-size="11" text-anchor="end" fill="#444" font-weight="normal" >High grade</text>
<text x="418.90" y="595.20" font-size="11" text-anchor="end" fill="#444" font-weight="normal" >Low grade</text>
</svg></body></html>
